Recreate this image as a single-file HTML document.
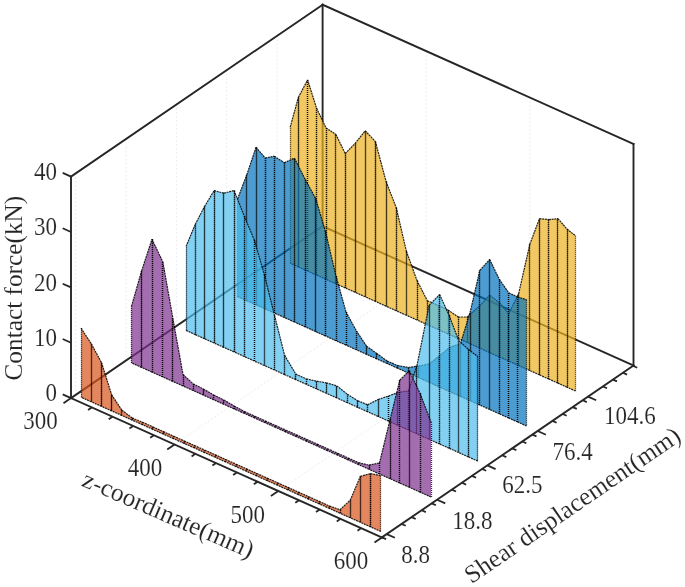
<!DOCTYPE html>
<html><head><meta charset="utf-8"><title>Contact force plot</title>
<style>html,body{margin:0;padding:0;background:#fff;width:685px;height:587px;overflow:hidden}svg{display:block}</style>
</head><body>
<svg width="685" height="587" viewBox="0 0 685 587"><g stroke="#ececec" stroke-width="1" stroke-dasharray="2 2" fill="none"><line x1="75.7" y1="394.8" x2="75.7" y2="173.3"/><line x1="126.1" y1="360.5" x2="126.1" y2="139.0"/><line x1="176.4" y1="326.1" x2="176.4" y2="104.6"/><line x1="226.7" y1="291.7" x2="226.7" y2="70.2"/><line x1="277.0" y1="257.3" x2="277.0" y2="35.8"/><line x1="426.2" y1="272.6" x2="426.2" y2="51.1"/><line x1="174.6" y1="444.5" x2="426.2" y2="272.6"/><line x1="529.9" y1="319.1" x2="529.9" y2="97.6"/><line x1="278.3" y1="491.0" x2="529.9" y2="319.1"/></g>
<g stroke="#262626" stroke-width="1.9" stroke-linecap="square"><line x1="71.0" y1="398.1" x2="71.0" y2="176.6"/><line x1="71.0" y1="176.6" x2="322.6" y2="4.7"/><line x1="322.6" y1="226.2" x2="322.6" y2="4.7"/><line x1="322.6" y1="4.7" x2="633.5" y2="144.0"/><line x1="633.5" y1="365.5" x2="633.5" y2="144.0"/><line x1="71.0" y1="398.1" x2="322.6" y2="226.2"/><line x1="322.6" y1="226.2" x2="633.5" y2="365.5"/></g>
<g><polygon points="290.2,127.1 298.4,97.3 307.6,79.9 316.6,108.3 326.0,127.9 335.9,134.4 345.2,153.5 355.0,143.6 365.2,130.8 375.4,141.6 386.1,181.6 396.2,207.6 406.4,251.3 417.0,280.5 427.3,300.7 438.5,305.5 448.0,310.0 458.4,317.0 467.3,317.0 479.5,306.0 489.7,295.2 499.3,302.7 508.8,313.6 518.7,293.5 529.8,244.3 539.5,218.7 548.9,219.6 557.9,218.7 567.0,229.0 575.5,235.8 575.5,391.0 290.2,263.2" fill="rgb(237, 177, 32)" fill-opacity="0.7" stroke="none"/><line x1="290.2" y1="127.1" x2="298.4" y2="97.3" stroke="#000" stroke-width="1.2" stroke-dasharray="2 0.7" stroke-opacity="0.85"/><line x1="298.4" y1="97.3" x2="307.6" y2="79.9" stroke="#000" stroke-width="1.2" stroke-dasharray="2 0.7" stroke-opacity="0.85"/><line x1="307.6" y1="79.9" x2="316.6" y2="108.3" stroke="#000" stroke-width="1.2" stroke-dasharray="2 0.7" stroke-opacity="0.85"/><line x1="316.6" y1="108.3" x2="326.0" y2="127.9" stroke="#000" stroke-width="1.2" stroke-dasharray="2 0.7" stroke-opacity="0.85"/><line x1="326.0" y1="127.9" x2="335.9" y2="134.4" stroke="#000" stroke-width="1.2" stroke-dasharray="2 0.7" stroke-opacity="0.85"/><line x1="335.9" y1="134.4" x2="345.2" y2="153.5" stroke="#000" stroke-width="1.2" stroke-dasharray="2 0.7" stroke-opacity="0.85"/><line x1="345.2" y1="153.5" x2="355.0" y2="143.6" stroke="#000" stroke-width="1.2" stroke-dasharray="2 0.7" stroke-opacity="0.85"/><line x1="355.0" y1="143.6" x2="365.2" y2="130.8" stroke="#000" stroke-width="1.2" stroke-dasharray="2 0.7" stroke-opacity="0.85"/><line x1="365.2" y1="130.8" x2="375.4" y2="141.6" stroke="#000" stroke-width="1.2" stroke-dasharray="2 0.7" stroke-opacity="0.85"/><line x1="375.4" y1="141.6" x2="386.1" y2="181.6" stroke="#000" stroke-width="1.2" stroke-dasharray="2 0.7" stroke-opacity="0.85"/><line x1="386.1" y1="181.6" x2="396.2" y2="207.6" stroke="#000" stroke-width="1.2" stroke-dasharray="2 0.7" stroke-opacity="0.85"/><line x1="396.2" y1="207.6" x2="406.4" y2="251.3" stroke="#000" stroke-width="1.2" stroke-dasharray="2 0.7" stroke-opacity="0.85"/><line x1="406.4" y1="251.3" x2="417.0" y2="280.5" stroke="#000" stroke-width="1.2" stroke-dasharray="2 0.7" stroke-opacity="0.85"/><line x1="417.0" y1="280.5" x2="427.3" y2="300.7" stroke="#000" stroke-width="1.2" stroke-dasharray="2 0.7" stroke-opacity="0.85"/><line x1="427.3" y1="300.7" x2="438.5" y2="305.5" stroke="#000" stroke-width="1.2" stroke-dasharray="2 0.7" stroke-opacity="0.85"/><line x1="438.5" y1="305.5" x2="448.0" y2="310.0" stroke="#000" stroke-width="1.2" stroke-dasharray="2 0.7" stroke-opacity="0.85"/><line x1="448.0" y1="310.0" x2="458.4" y2="317.0" stroke="#000" stroke-width="1.2" stroke-dasharray="2 0.7" stroke-opacity="0.85"/><line x1="458.4" y1="317.0" x2="467.3" y2="317.0" stroke="#000" stroke-width="1.2" stroke-dasharray="2 0.7" stroke-opacity="0.85"/><line x1="467.3" y1="317.0" x2="479.5" y2="306.0" stroke="#000" stroke-width="1.2" stroke-dasharray="2 0.7" stroke-opacity="0.85"/><line x1="479.5" y1="306.0" x2="489.7" y2="295.2" stroke="#000" stroke-width="1.2" stroke-dasharray="2 0.7" stroke-opacity="0.85"/><line x1="489.7" y1="295.2" x2="499.3" y2="302.7" stroke="#000" stroke-width="1.2" stroke-dasharray="2 0.7" stroke-opacity="0.85"/><line x1="499.3" y1="302.7" x2="508.8" y2="313.6" stroke="#000" stroke-width="1.2" stroke-dasharray="2 0.7" stroke-opacity="0.85"/><line x1="508.8" y1="313.6" x2="518.7" y2="293.5" stroke="#000" stroke-width="1.2" stroke-dasharray="2 0.7" stroke-opacity="0.85"/><line x1="518.7" y1="293.5" x2="529.8" y2="244.3" stroke="#000" stroke-width="1.2" stroke-dasharray="2 0.7" stroke-opacity="0.85"/><line x1="529.8" y1="244.3" x2="539.5" y2="218.7" stroke="#000" stroke-width="1.2" stroke-dasharray="2 0.7" stroke-opacity="0.85"/><line x1="539.5" y1="218.7" x2="548.9" y2="219.6" stroke="#000" stroke-width="1.2" stroke-dasharray="2 0.7" stroke-opacity="0.85"/><line x1="548.9" y1="219.6" x2="557.9" y2="218.7" stroke="#000" stroke-width="1.2" stroke-dasharray="2 0.7" stroke-opacity="0.85"/><line x1="557.9" y1="218.7" x2="567.0" y2="229.0" stroke="#000" stroke-width="1.2" stroke-dasharray="2 0.7" stroke-opacity="0.85"/><line x1="567.0" y1="229.0" x2="575.5" y2="235.8" stroke="#000" stroke-width="1.2" stroke-dasharray="2 0.7" stroke-opacity="0.85"/><line x1="298.4" y1="266.9" x2="290.2" y2="263.2" stroke="#000" stroke-width="1.2" stroke-dasharray="2 0.7" stroke-opacity="0.85"/><line x1="307.6" y1="271.0" x2="298.4" y2="266.9" stroke="#000" stroke-width="1.2" stroke-dasharray="2 0.7" stroke-opacity="0.85"/><line x1="316.6" y1="275.0" x2="307.6" y2="271.0" stroke="#000" stroke-width="1.2" stroke-dasharray="2 0.7" stroke-opacity="0.85"/><line x1="326.0" y1="279.3" x2="316.6" y2="275.0" stroke="#000" stroke-width="1.2" stroke-dasharray="2 0.7" stroke-opacity="0.85"/><line x1="335.9" y1="283.7" x2="326.0" y2="279.3" stroke="#000" stroke-width="1.2" stroke-dasharray="2 0.7" stroke-opacity="0.85"/><line x1="345.2" y1="287.9" x2="335.9" y2="283.7" stroke="#000" stroke-width="1.2" stroke-dasharray="2 0.7" stroke-opacity="0.85"/><line x1="355.0" y1="292.2" x2="345.2" y2="287.9" stroke="#000" stroke-width="1.2" stroke-dasharray="2 0.7" stroke-opacity="0.85"/><line x1="365.2" y1="296.8" x2="355.0" y2="292.2" stroke="#000" stroke-width="1.2" stroke-dasharray="2 0.7" stroke-opacity="0.85"/><line x1="375.4" y1="301.4" x2="365.2" y2="296.8" stroke="#000" stroke-width="1.2" stroke-dasharray="2 0.7" stroke-opacity="0.85"/><line x1="386.1" y1="306.2" x2="375.4" y2="301.4" stroke="#000" stroke-width="1.2" stroke-dasharray="2 0.7" stroke-opacity="0.85"/><line x1="396.2" y1="310.7" x2="386.1" y2="306.2" stroke="#000" stroke-width="1.2" stroke-dasharray="2 0.7" stroke-opacity="0.85"/><line x1="406.4" y1="315.3" x2="396.2" y2="310.7" stroke="#000" stroke-width="1.2" stroke-dasharray="2 0.7" stroke-opacity="0.85"/><line x1="417.0" y1="320.0" x2="406.4" y2="315.3" stroke="#000" stroke-width="1.2" stroke-dasharray="2 0.7" stroke-opacity="0.85"/><line x1="427.3" y1="324.6" x2="417.0" y2="320.0" stroke="#000" stroke-width="1.2" stroke-dasharray="2 0.7" stroke-opacity="0.85"/><line x1="438.5" y1="329.6" x2="427.3" y2="324.6" stroke="#000" stroke-width="1.2" stroke-dasharray="2 0.7" stroke-opacity="0.85"/><line x1="448.0" y1="333.9" x2="438.5" y2="329.6" stroke="#000" stroke-width="1.2" stroke-dasharray="2 0.7" stroke-opacity="0.85"/><line x1="458.4" y1="338.6" x2="448.0" y2="333.9" stroke="#000" stroke-width="1.2" stroke-dasharray="2 0.7" stroke-opacity="0.85"/><line x1="467.3" y1="342.5" x2="458.4" y2="338.6" stroke="#000" stroke-width="1.2" stroke-dasharray="2 0.7" stroke-opacity="0.85"/><line x1="479.5" y1="348.0" x2="467.3" y2="342.5" stroke="#000" stroke-width="1.2" stroke-dasharray="2 0.7" stroke-opacity="0.85"/><line x1="489.7" y1="352.6" x2="479.5" y2="348.0" stroke="#000" stroke-width="1.2" stroke-dasharray="2 0.7" stroke-opacity="0.85"/><line x1="499.3" y1="356.9" x2="489.7" y2="352.6" stroke="#000" stroke-width="1.2" stroke-dasharray="2 0.7" stroke-opacity="0.85"/><line x1="508.8" y1="361.1" x2="499.3" y2="356.9" stroke="#000" stroke-width="1.2" stroke-dasharray="2 0.7" stroke-opacity="0.85"/><line x1="518.7" y1="365.6" x2="508.8" y2="361.1" stroke="#000" stroke-width="1.2" stroke-dasharray="2 0.7" stroke-opacity="0.85"/><line x1="529.8" y1="370.5" x2="518.7" y2="365.6" stroke="#000" stroke-width="1.2" stroke-dasharray="2 0.7" stroke-opacity="0.85"/><line x1="539.5" y1="374.9" x2="529.8" y2="370.5" stroke="#000" stroke-width="1.2" stroke-dasharray="2 0.7" stroke-opacity="0.85"/><line x1="548.9" y1="379.1" x2="539.5" y2="374.9" stroke="#000" stroke-width="1.2" stroke-dasharray="2 0.7" stroke-opacity="0.85"/><line x1="557.9" y1="383.1" x2="548.9" y2="379.1" stroke="#000" stroke-width="1.2" stroke-dasharray="2 0.7" stroke-opacity="0.85"/><line x1="567.0" y1="387.2" x2="557.9" y2="383.1" stroke="#000" stroke-width="1.2" stroke-dasharray="2 0.7" stroke-opacity="0.85"/><line x1="575.5" y1="391.0" x2="567.0" y2="387.2" stroke="#000" stroke-width="1.2" stroke-dasharray="2 0.7" stroke-opacity="0.85"/><line x1="290.5" y1="263.2" x2="290.5" y2="127.1" stroke="#000" stroke-width="1.3" stroke-dasharray="1.05 0.95" stroke-opacity="0.8"/><line x1="298.5" y1="266.9" x2="298.5" y2="97.3" stroke="#000" stroke-width="1.3" stroke-dasharray="1.05 0.95" stroke-opacity="0.8"/><line x1="298.5" y1="97.3" x2="298.5" y2="266.9" stroke="#000" stroke-width="1.3" stroke-dasharray="1.05 0.95" stroke-opacity="0.8"/><line x1="307.5" y1="271.0" x2="307.5" y2="79.9" stroke="#000" stroke-width="1.3" stroke-dasharray="1.05 0.95" stroke-opacity="0.8"/><line x1="307.5" y1="79.9" x2="307.5" y2="271.0" stroke="#000" stroke-width="1.3" stroke-dasharray="1.05 0.95" stroke-opacity="0.8"/><line x1="316.5" y1="275.0" x2="316.5" y2="108.3" stroke="#000" stroke-width="1.3" stroke-dasharray="1.05 0.95" stroke-opacity="0.8"/><line x1="316.5" y1="108.3" x2="316.5" y2="275.0" stroke="#000" stroke-width="1.3" stroke-dasharray="1.05 0.95" stroke-opacity="0.8"/><line x1="326.5" y1="279.3" x2="326.5" y2="127.9" stroke="#000" stroke-width="1.3" stroke-dasharray="1.05 0.95" stroke-opacity="0.8"/><line x1="326.5" y1="127.9" x2="326.5" y2="279.3" stroke="#000" stroke-width="1.3" stroke-dasharray="1.05 0.95" stroke-opacity="0.8"/><line x1="335.5" y1="283.7" x2="335.5" y2="134.4" stroke="#000" stroke-width="1.3" stroke-dasharray="1.05 0.95" stroke-opacity="0.8"/><line x1="335.5" y1="134.4" x2="335.5" y2="283.7" stroke="#000" stroke-width="1.3" stroke-dasharray="1.05 0.95" stroke-opacity="0.8"/><line x1="345.5" y1="287.9" x2="345.5" y2="153.5" stroke="#000" stroke-width="1.3" stroke-dasharray="1.05 0.95" stroke-opacity="0.8"/><line x1="345.5" y1="153.5" x2="345.5" y2="287.9" stroke="#000" stroke-width="1.3" stroke-dasharray="1.05 0.95" stroke-opacity="0.8"/><line x1="355.5" y1="292.2" x2="355.5" y2="143.6" stroke="#000" stroke-width="1.3" stroke-dasharray="1.05 0.95" stroke-opacity="0.8"/><line x1="355.5" y1="143.6" x2="355.5" y2="292.2" stroke="#000" stroke-width="1.3" stroke-dasharray="1.05 0.95" stroke-opacity="0.8"/><line x1="365.5" y1="296.8" x2="365.5" y2="130.8" stroke="#000" stroke-width="1.3" stroke-dasharray="1.05 0.95" stroke-opacity="0.8"/><line x1="365.5" y1="130.8" x2="365.5" y2="296.8" stroke="#000" stroke-width="1.3" stroke-dasharray="1.05 0.95" stroke-opacity="0.8"/><line x1="375.5" y1="301.4" x2="375.5" y2="141.6" stroke="#000" stroke-width="1.3" stroke-dasharray="1.05 0.95" stroke-opacity="0.8"/><line x1="375.5" y1="141.6" x2="375.5" y2="301.4" stroke="#000" stroke-width="1.3" stroke-dasharray="1.05 0.95" stroke-opacity="0.8"/><line x1="386.5" y1="306.2" x2="386.5" y2="181.6" stroke="#000" stroke-width="1.3" stroke-dasharray="1.05 0.95" stroke-opacity="0.8"/><line x1="386.5" y1="181.6" x2="386.5" y2="306.2" stroke="#000" stroke-width="1.3" stroke-dasharray="1.05 0.95" stroke-opacity="0.8"/><line x1="396.5" y1="310.7" x2="396.5" y2="207.6" stroke="#000" stroke-width="1.3" stroke-dasharray="1.05 0.95" stroke-opacity="0.8"/><line x1="396.5" y1="207.6" x2="396.5" y2="310.7" stroke="#000" stroke-width="1.3" stroke-dasharray="1.05 0.95" stroke-opacity="0.8"/><line x1="406.5" y1="315.3" x2="406.5" y2="251.3" stroke="#000" stroke-width="1.3" stroke-dasharray="1.05 0.95" stroke-opacity="0.8"/><line x1="406.5" y1="251.3" x2="406.5" y2="315.3" stroke="#000" stroke-width="1.3" stroke-dasharray="1.05 0.95" stroke-opacity="0.8"/><line x1="417.5" y1="320.0" x2="417.5" y2="280.5" stroke="#000" stroke-width="1.3" stroke-dasharray="1.05 0.95" stroke-opacity="0.8"/><line x1="417.5" y1="280.5" x2="417.5" y2="320.0" stroke="#000" stroke-width="1.3" stroke-dasharray="1.05 0.95" stroke-opacity="0.8"/><line x1="427.5" y1="324.6" x2="427.5" y2="300.7" stroke="#000" stroke-width="1.3" stroke-dasharray="1.05 0.95" stroke-opacity="0.8"/><line x1="427.5" y1="300.7" x2="427.5" y2="324.6" stroke="#000" stroke-width="1.3" stroke-dasharray="1.05 0.95" stroke-opacity="0.8"/><line x1="438.5" y1="329.6" x2="438.5" y2="305.5" stroke="#000" stroke-width="1.3" stroke-dasharray="1.05 0.95" stroke-opacity="0.8"/><line x1="438.5" y1="305.5" x2="438.5" y2="329.6" stroke="#000" stroke-width="1.3" stroke-dasharray="1.05 0.95" stroke-opacity="0.8"/><line x1="448.5" y1="333.9" x2="448.5" y2="310.0" stroke="#000" stroke-width="1.3" stroke-dasharray="1.05 0.95" stroke-opacity="0.8"/><line x1="448.5" y1="310.0" x2="448.5" y2="333.9" stroke="#000" stroke-width="1.3" stroke-dasharray="1.05 0.95" stroke-opacity="0.8"/><line x1="458.5" y1="338.6" x2="458.5" y2="317.0" stroke="#000" stroke-width="1.3" stroke-dasharray="1.05 0.95" stroke-opacity="0.8"/><line x1="458.5" y1="317.0" x2="458.5" y2="338.6" stroke="#000" stroke-width="1.3" stroke-dasharray="1.05 0.95" stroke-opacity="0.8"/><line x1="467.5" y1="342.5" x2="467.5" y2="317.0" stroke="#000" stroke-width="1.3" stroke-dasharray="1.05 0.95" stroke-opacity="0.8"/><line x1="467.5" y1="317.0" x2="467.5" y2="342.5" stroke="#000" stroke-width="1.3" stroke-dasharray="1.05 0.95" stroke-opacity="0.8"/><line x1="479.5" y1="348.0" x2="479.5" y2="306.0" stroke="#000" stroke-width="1.3" stroke-dasharray="1.05 0.95" stroke-opacity="0.8"/><line x1="479.5" y1="306.0" x2="479.5" y2="348.0" stroke="#000" stroke-width="1.3" stroke-dasharray="1.05 0.95" stroke-opacity="0.8"/><line x1="489.5" y1="352.6" x2="489.5" y2="295.2" stroke="#000" stroke-width="1.3" stroke-dasharray="1.05 0.95" stroke-opacity="0.8"/><line x1="489.5" y1="295.2" x2="489.5" y2="352.6" stroke="#000" stroke-width="1.3" stroke-dasharray="1.05 0.95" stroke-opacity="0.8"/><line x1="499.5" y1="356.9" x2="499.5" y2="302.7" stroke="#000" stroke-width="1.3" stroke-dasharray="1.05 0.95" stroke-opacity="0.8"/><line x1="499.5" y1="302.7" x2="499.5" y2="356.9" stroke="#000" stroke-width="1.3" stroke-dasharray="1.05 0.95" stroke-opacity="0.8"/><line x1="508.5" y1="361.1" x2="508.5" y2="313.6" stroke="#000" stroke-width="1.3" stroke-dasharray="1.05 0.95" stroke-opacity="0.8"/><line x1="508.5" y1="313.6" x2="508.5" y2="361.1" stroke="#000" stroke-width="1.3" stroke-dasharray="1.05 0.95" stroke-opacity="0.8"/><line x1="518.5" y1="365.6" x2="518.5" y2="293.5" stroke="#000" stroke-width="1.3" stroke-dasharray="1.05 0.95" stroke-opacity="0.8"/><line x1="518.5" y1="293.5" x2="518.5" y2="365.6" stroke="#000" stroke-width="1.3" stroke-dasharray="1.05 0.95" stroke-opacity="0.8"/><line x1="529.5" y1="370.5" x2="529.5" y2="244.3" stroke="#000" stroke-width="1.3" stroke-dasharray="1.05 0.95" stroke-opacity="0.8"/><line x1="529.5" y1="244.3" x2="529.5" y2="370.5" stroke="#000" stroke-width="1.3" stroke-dasharray="1.05 0.95" stroke-opacity="0.8"/><line x1="539.5" y1="374.9" x2="539.5" y2="218.7" stroke="#000" stroke-width="1.3" stroke-dasharray="1.05 0.95" stroke-opacity="0.8"/><line x1="539.5" y1="218.7" x2="539.5" y2="374.9" stroke="#000" stroke-width="1.3" stroke-dasharray="1.05 0.95" stroke-opacity="0.8"/><line x1="548.5" y1="379.1" x2="548.5" y2="219.6" stroke="#000" stroke-width="1.3" stroke-dasharray="1.05 0.95" stroke-opacity="0.8"/><line x1="548.5" y1="219.6" x2="548.5" y2="379.1" stroke="#000" stroke-width="1.3" stroke-dasharray="1.05 0.95" stroke-opacity="0.8"/><line x1="557.5" y1="383.1" x2="557.5" y2="218.7" stroke="#000" stroke-width="1.3" stroke-dasharray="1.05 0.95" stroke-opacity="0.8"/><line x1="557.5" y1="218.7" x2="557.5" y2="383.1" stroke="#000" stroke-width="1.3" stroke-dasharray="1.05 0.95" stroke-opacity="0.8"/><line x1="567.5" y1="387.2" x2="567.5" y2="229.0" stroke="#000" stroke-width="1.3" stroke-dasharray="1.05 0.95" stroke-opacity="0.8"/><line x1="567.5" y1="229.0" x2="567.5" y2="387.2" stroke="#000" stroke-width="1.3" stroke-dasharray="1.05 0.95" stroke-opacity="0.8"/><line x1="575.5" y1="235.8" x2="575.5" y2="391.0" stroke="#000" stroke-width="1.3" stroke-dasharray="1.05 0.95" stroke-opacity="0.8"/></g>
<g><polygon points="237.6,198.8 246.8,174.8 256.0,147.3 265.2,158.0 274.3,156.2 284.3,162.7 294.4,158.2 305.4,179.8 315.7,198.6 325.3,231.0 336.0,276.0 346.0,312.0 356.4,330.9 366.6,346.2 376.8,353.5 387.1,361.0 397.6,365.5 408.5,367.5 418.7,366.0 429.0,364.0 438.5,356.6 449.5,347.5 460.5,343.5 470.0,312.7 479.8,270.4 489.7,259.5 499.3,279.3 508.8,292.9 517.7,297.0 526.5,299.7 526.5,426.0 237.6,296.6" fill="rgb(0, 114, 189)" fill-opacity="0.7" stroke="none"/><line x1="237.6" y1="198.8" x2="246.8" y2="174.8" stroke="#000" stroke-width="1.2" stroke-dasharray="2 0.7" stroke-opacity="0.85"/><line x1="246.8" y1="174.8" x2="256.0" y2="147.3" stroke="#000" stroke-width="1.2" stroke-dasharray="2 0.7" stroke-opacity="0.85"/><line x1="256.0" y1="147.3" x2="265.2" y2="158.0" stroke="#000" stroke-width="1.2" stroke-dasharray="2 0.7" stroke-opacity="0.85"/><line x1="265.2" y1="158.0" x2="274.3" y2="156.2" stroke="#000" stroke-width="1.2" stroke-dasharray="2 0.7" stroke-opacity="0.85"/><line x1="274.3" y1="156.2" x2="284.3" y2="162.7" stroke="#000" stroke-width="1.2" stroke-dasharray="2 0.7" stroke-opacity="0.85"/><line x1="284.3" y1="162.7" x2="294.4" y2="158.2" stroke="#000" stroke-width="1.2" stroke-dasharray="2 0.7" stroke-opacity="0.85"/><line x1="294.4" y1="158.2" x2="305.4" y2="179.8" stroke="#000" stroke-width="1.2" stroke-dasharray="2 0.7" stroke-opacity="0.85"/><line x1="305.4" y1="179.8" x2="315.7" y2="198.6" stroke="#000" stroke-width="1.2" stroke-dasharray="2 0.7" stroke-opacity="0.85"/><line x1="315.7" y1="198.6" x2="325.3" y2="231.0" stroke="#000" stroke-width="1.2" stroke-dasharray="2 0.7" stroke-opacity="0.85"/><line x1="325.3" y1="231.0" x2="336.0" y2="276.0" stroke="#000" stroke-width="1.2" stroke-dasharray="2 0.7" stroke-opacity="0.85"/><line x1="336.0" y1="276.0" x2="346.0" y2="312.0" stroke="#000" stroke-width="1.2" stroke-dasharray="2 0.7" stroke-opacity="0.85"/><line x1="346.0" y1="312.0" x2="356.4" y2="330.9" stroke="#000" stroke-width="1.2" stroke-dasharray="2 0.7" stroke-opacity="0.85"/><line x1="356.4" y1="330.9" x2="366.6" y2="346.2" stroke="#000" stroke-width="1.2" stroke-dasharray="2 0.7" stroke-opacity="0.85"/><line x1="366.6" y1="346.2" x2="376.8" y2="353.5" stroke="#000" stroke-width="1.2" stroke-dasharray="2 0.7" stroke-opacity="0.85"/><line x1="376.8" y1="353.5" x2="387.1" y2="361.0" stroke="#000" stroke-width="1.2" stroke-dasharray="2 0.7" stroke-opacity="0.85"/><line x1="387.1" y1="361.0" x2="397.6" y2="365.5" stroke="#000" stroke-width="1.2" stroke-dasharray="2 0.7" stroke-opacity="0.85"/><line x1="397.6" y1="365.5" x2="408.5" y2="367.5" stroke="#000" stroke-width="1.2" stroke-dasharray="2 0.7" stroke-opacity="0.85"/><line x1="408.5" y1="367.5" x2="418.7" y2="366.0" stroke="#000" stroke-width="1.2" stroke-dasharray="2 0.7" stroke-opacity="0.85"/><line x1="418.7" y1="366.0" x2="429.0" y2="364.0" stroke="#000" stroke-width="1.2" stroke-dasharray="2 0.7" stroke-opacity="0.85"/><line x1="429.0" y1="364.0" x2="438.5" y2="356.6" stroke="#000" stroke-width="1.2" stroke-dasharray="2 0.7" stroke-opacity="0.85"/><line x1="438.5" y1="356.6" x2="449.5" y2="347.5" stroke="#000" stroke-width="1.2" stroke-dasharray="2 0.7" stroke-opacity="0.85"/><line x1="449.5" y1="347.5" x2="460.5" y2="343.5" stroke="#000" stroke-width="1.2" stroke-dasharray="2 0.7" stroke-opacity="0.85"/><line x1="460.5" y1="343.5" x2="470.0" y2="312.7" stroke="#000" stroke-width="1.2" stroke-dasharray="2 0.7" stroke-opacity="0.85"/><line x1="470.0" y1="312.7" x2="479.8" y2="270.4" stroke="#000" stroke-width="1.2" stroke-dasharray="2 0.7" stroke-opacity="0.85"/><line x1="479.8" y1="270.4" x2="489.7" y2="259.5" stroke="#000" stroke-width="1.2" stroke-dasharray="2 0.7" stroke-opacity="0.85"/><line x1="489.7" y1="259.5" x2="499.3" y2="279.3" stroke="#000" stroke-width="1.2" stroke-dasharray="2 0.7" stroke-opacity="0.85"/><line x1="499.3" y1="279.3" x2="508.8" y2="292.9" stroke="#000" stroke-width="1.2" stroke-dasharray="2 0.7" stroke-opacity="0.85"/><line x1="508.8" y1="292.9" x2="517.7" y2="297.0" stroke="#000" stroke-width="1.2" stroke-dasharray="2 0.7" stroke-opacity="0.85"/><line x1="517.7" y1="297.0" x2="526.5" y2="299.7" stroke="#000" stroke-width="1.2" stroke-dasharray="2 0.7" stroke-opacity="0.85"/><line x1="246.8" y1="300.7" x2="237.6" y2="296.6" stroke="#000" stroke-width="1.2" stroke-dasharray="2 0.7" stroke-opacity="0.85"/><line x1="256.0" y1="304.8" x2="246.8" y2="300.7" stroke="#000" stroke-width="1.2" stroke-dasharray="2 0.7" stroke-opacity="0.85"/><line x1="265.2" y1="308.9" x2="256.0" y2="304.8" stroke="#000" stroke-width="1.2" stroke-dasharray="2 0.7" stroke-opacity="0.85"/><line x1="274.3" y1="313.0" x2="265.2" y2="308.9" stroke="#000" stroke-width="1.2" stroke-dasharray="2 0.7" stroke-opacity="0.85"/><line x1="284.3" y1="317.5" x2="274.3" y2="313.0" stroke="#000" stroke-width="1.2" stroke-dasharray="2 0.7" stroke-opacity="0.85"/><line x1="294.4" y1="322.0" x2="284.3" y2="317.5" stroke="#000" stroke-width="1.2" stroke-dasharray="2 0.7" stroke-opacity="0.85"/><line x1="305.4" y1="326.9" x2="294.4" y2="322.0" stroke="#000" stroke-width="1.2" stroke-dasharray="2 0.7" stroke-opacity="0.85"/><line x1="315.7" y1="331.6" x2="305.4" y2="326.9" stroke="#000" stroke-width="1.2" stroke-dasharray="2 0.7" stroke-opacity="0.85"/><line x1="325.3" y1="335.9" x2="315.7" y2="331.6" stroke="#000" stroke-width="1.2" stroke-dasharray="2 0.7" stroke-opacity="0.85"/><line x1="336.0" y1="340.7" x2="325.3" y2="335.9" stroke="#000" stroke-width="1.2" stroke-dasharray="2 0.7" stroke-opacity="0.85"/><line x1="346.0" y1="345.1" x2="336.0" y2="340.7" stroke="#000" stroke-width="1.2" stroke-dasharray="2 0.7" stroke-opacity="0.85"/><line x1="356.4" y1="349.8" x2="346.0" y2="345.1" stroke="#000" stroke-width="1.2" stroke-dasharray="2 0.7" stroke-opacity="0.85"/><line x1="366.6" y1="354.4" x2="356.4" y2="349.8" stroke="#000" stroke-width="1.2" stroke-dasharray="2 0.7" stroke-opacity="0.85"/><line x1="376.8" y1="358.9" x2="366.6" y2="354.4" stroke="#000" stroke-width="1.2" stroke-dasharray="2 0.7" stroke-opacity="0.85"/><line x1="387.1" y1="363.5" x2="376.8" y2="358.9" stroke="#000" stroke-width="1.2" stroke-dasharray="2 0.7" stroke-opacity="0.85"/><line x1="397.6" y1="368.2" x2="387.1" y2="363.5" stroke="#000" stroke-width="1.2" stroke-dasharray="2 0.7" stroke-opacity="0.85"/><line x1="408.5" y1="373.1" x2="397.6" y2="368.2" stroke="#000" stroke-width="1.2" stroke-dasharray="2 0.7" stroke-opacity="0.85"/><line x1="418.7" y1="377.7" x2="408.5" y2="373.1" stroke="#000" stroke-width="1.2" stroke-dasharray="2 0.7" stroke-opacity="0.85"/><line x1="429.0" y1="382.3" x2="418.7" y2="377.7" stroke="#000" stroke-width="1.2" stroke-dasharray="2 0.7" stroke-opacity="0.85"/><line x1="438.5" y1="386.6" x2="429.0" y2="382.3" stroke="#000" stroke-width="1.2" stroke-dasharray="2 0.7" stroke-opacity="0.85"/><line x1="449.5" y1="391.5" x2="438.5" y2="386.6" stroke="#000" stroke-width="1.2" stroke-dasharray="2 0.7" stroke-opacity="0.85"/><line x1="460.5" y1="396.4" x2="449.5" y2="391.5" stroke="#000" stroke-width="1.2" stroke-dasharray="2 0.7" stroke-opacity="0.85"/><line x1="470.0" y1="400.7" x2="460.5" y2="396.4" stroke="#000" stroke-width="1.2" stroke-dasharray="2 0.7" stroke-opacity="0.85"/><line x1="479.8" y1="405.1" x2="470.0" y2="400.7" stroke="#000" stroke-width="1.2" stroke-dasharray="2 0.7" stroke-opacity="0.85"/><line x1="489.7" y1="409.5" x2="479.8" y2="405.1" stroke="#000" stroke-width="1.2" stroke-dasharray="2 0.7" stroke-opacity="0.85"/><line x1="499.3" y1="413.8" x2="489.7" y2="409.5" stroke="#000" stroke-width="1.2" stroke-dasharray="2 0.7" stroke-opacity="0.85"/><line x1="508.8" y1="418.1" x2="499.3" y2="413.8" stroke="#000" stroke-width="1.2" stroke-dasharray="2 0.7" stroke-opacity="0.85"/><line x1="517.7" y1="422.0" x2="508.8" y2="418.1" stroke="#000" stroke-width="1.2" stroke-dasharray="2 0.7" stroke-opacity="0.85"/><line x1="526.5" y1="426.0" x2="517.7" y2="422.0" stroke="#000" stroke-width="1.2" stroke-dasharray="2 0.7" stroke-opacity="0.85"/><line x1="237.5" y1="296.6" x2="237.5" y2="198.8" stroke="#000" stroke-width="1.3" stroke-dasharray="1.05 0.95" stroke-opacity="0.8"/><line x1="246.5" y1="300.7" x2="246.5" y2="174.8" stroke="#000" stroke-width="1.3" stroke-dasharray="1.05 0.95" stroke-opacity="0.8"/><line x1="246.5" y1="174.8" x2="246.5" y2="300.7" stroke="#000" stroke-width="1.3" stroke-dasharray="1.05 0.95" stroke-opacity="0.8"/><line x1="256.5" y1="304.8" x2="256.5" y2="147.3" stroke="#000" stroke-width="1.3" stroke-dasharray="1.05 0.95" stroke-opacity="0.8"/><line x1="256.5" y1="147.3" x2="256.5" y2="304.8" stroke="#000" stroke-width="1.3" stroke-dasharray="1.05 0.95" stroke-opacity="0.8"/><line x1="265.5" y1="308.9" x2="265.5" y2="158.0" stroke="#000" stroke-width="1.3" stroke-dasharray="1.05 0.95" stroke-opacity="0.8"/><line x1="265.5" y1="158.0" x2="265.5" y2="308.9" stroke="#000" stroke-width="1.3" stroke-dasharray="1.05 0.95" stroke-opacity="0.8"/><line x1="274.5" y1="313.0" x2="274.5" y2="156.2" stroke="#000" stroke-width="1.3" stroke-dasharray="1.05 0.95" stroke-opacity="0.8"/><line x1="274.5" y1="156.2" x2="274.5" y2="313.0" stroke="#000" stroke-width="1.3" stroke-dasharray="1.05 0.95" stroke-opacity="0.8"/><line x1="284.5" y1="317.5" x2="284.5" y2="162.7" stroke="#000" stroke-width="1.3" stroke-dasharray="1.05 0.95" stroke-opacity="0.8"/><line x1="284.5" y1="162.7" x2="284.5" y2="317.5" stroke="#000" stroke-width="1.3" stroke-dasharray="1.05 0.95" stroke-opacity="0.8"/><line x1="294.5" y1="322.0" x2="294.5" y2="158.2" stroke="#000" stroke-width="1.3" stroke-dasharray="1.05 0.95" stroke-opacity="0.8"/><line x1="294.5" y1="158.2" x2="294.5" y2="322.0" stroke="#000" stroke-width="1.3" stroke-dasharray="1.05 0.95" stroke-opacity="0.8"/><line x1="305.5" y1="326.9" x2="305.5" y2="179.8" stroke="#000" stroke-width="1.3" stroke-dasharray="1.05 0.95" stroke-opacity="0.8"/><line x1="305.5" y1="179.8" x2="305.5" y2="326.9" stroke="#000" stroke-width="1.3" stroke-dasharray="1.05 0.95" stroke-opacity="0.8"/><line x1="315.5" y1="331.6" x2="315.5" y2="198.6" stroke="#000" stroke-width="1.3" stroke-dasharray="1.05 0.95" stroke-opacity="0.8"/><line x1="315.5" y1="198.6" x2="315.5" y2="331.6" stroke="#000" stroke-width="1.3" stroke-dasharray="1.05 0.95" stroke-opacity="0.8"/><line x1="325.5" y1="335.9" x2="325.5" y2="231.0" stroke="#000" stroke-width="1.3" stroke-dasharray="1.05 0.95" stroke-opacity="0.8"/><line x1="325.5" y1="231.0" x2="325.5" y2="335.9" stroke="#000" stroke-width="1.3" stroke-dasharray="1.05 0.95" stroke-opacity="0.8"/><line x1="336.5" y1="340.7" x2="336.5" y2="276.0" stroke="#000" stroke-width="1.3" stroke-dasharray="1.05 0.95" stroke-opacity="0.8"/><line x1="336.5" y1="276.0" x2="336.5" y2="340.7" stroke="#000" stroke-width="1.3" stroke-dasharray="1.05 0.95" stroke-opacity="0.8"/><line x1="346.5" y1="345.1" x2="346.5" y2="312.0" stroke="#000" stroke-width="1.3" stroke-dasharray="1.05 0.95" stroke-opacity="0.8"/><line x1="346.5" y1="312.0" x2="346.5" y2="345.1" stroke="#000" stroke-width="1.3" stroke-dasharray="1.05 0.95" stroke-opacity="0.8"/><line x1="356.5" y1="349.8" x2="356.5" y2="330.9" stroke="#000" stroke-width="1.3" stroke-dasharray="1.05 0.95" stroke-opacity="0.8"/><line x1="356.5" y1="330.9" x2="356.5" y2="349.8" stroke="#000" stroke-width="1.3" stroke-dasharray="1.05 0.95" stroke-opacity="0.8"/><line x1="366.5" y1="354.4" x2="366.5" y2="346.2" stroke="#000" stroke-width="1.3" stroke-dasharray="1.05 0.95" stroke-opacity="0.8"/><line x1="366.5" y1="346.2" x2="366.5" y2="354.4" stroke="#000" stroke-width="1.3" stroke-dasharray="1.05 0.95" stroke-opacity="0.8"/><line x1="376.5" y1="358.9" x2="376.5" y2="353.5" stroke="#000" stroke-width="1.3" stroke-dasharray="1.05 0.95" stroke-opacity="0.8"/><line x1="376.5" y1="353.5" x2="376.5" y2="358.9" stroke="#000" stroke-width="1.3" stroke-dasharray="1.05 0.95" stroke-opacity="0.8"/><line x1="387.5" y1="363.5" x2="387.5" y2="361.0" stroke="#000" stroke-width="1.3" stroke-dasharray="1.05 0.95" stroke-opacity="0.8"/><line x1="387.5" y1="361.0" x2="387.5" y2="363.5" stroke="#000" stroke-width="1.3" stroke-dasharray="1.05 0.95" stroke-opacity="0.8"/><line x1="397.5" y1="368.2" x2="397.5" y2="365.5" stroke="#000" stroke-width="1.3" stroke-dasharray="1.05 0.95" stroke-opacity="0.8"/><line x1="397.5" y1="365.5" x2="397.5" y2="368.2" stroke="#000" stroke-width="1.3" stroke-dasharray="1.05 0.95" stroke-opacity="0.8"/><line x1="408.5" y1="373.1" x2="408.5" y2="367.5" stroke="#000" stroke-width="1.3" stroke-dasharray="1.05 0.95" stroke-opacity="0.8"/><line x1="408.5" y1="367.5" x2="408.5" y2="373.1" stroke="#000" stroke-width="1.3" stroke-dasharray="1.05 0.95" stroke-opacity="0.8"/><line x1="418.5" y1="377.7" x2="418.5" y2="366.0" stroke="#000" stroke-width="1.3" stroke-dasharray="1.05 0.95" stroke-opacity="0.8"/><line x1="418.5" y1="366.0" x2="418.5" y2="377.7" stroke="#000" stroke-width="1.3" stroke-dasharray="1.05 0.95" stroke-opacity="0.8"/><line x1="429.5" y1="382.3" x2="429.5" y2="364.0" stroke="#000" stroke-width="1.3" stroke-dasharray="1.05 0.95" stroke-opacity="0.8"/><line x1="429.5" y1="364.0" x2="429.5" y2="382.3" stroke="#000" stroke-width="1.3" stroke-dasharray="1.05 0.95" stroke-opacity="0.8"/><line x1="438.5" y1="386.6" x2="438.5" y2="356.6" stroke="#000" stroke-width="1.3" stroke-dasharray="1.05 0.95" stroke-opacity="0.8"/><line x1="438.5" y1="356.6" x2="438.5" y2="386.6" stroke="#000" stroke-width="1.3" stroke-dasharray="1.05 0.95" stroke-opacity="0.8"/><line x1="449.5" y1="391.5" x2="449.5" y2="347.5" stroke="#000" stroke-width="1.3" stroke-dasharray="1.05 0.95" stroke-opacity="0.8"/><line x1="449.5" y1="347.5" x2="449.5" y2="391.5" stroke="#000" stroke-width="1.3" stroke-dasharray="1.05 0.95" stroke-opacity="0.8"/><line x1="460.5" y1="396.4" x2="460.5" y2="343.5" stroke="#000" stroke-width="1.3" stroke-dasharray="1.05 0.95" stroke-opacity="0.8"/><line x1="460.5" y1="343.5" x2="460.5" y2="396.4" stroke="#000" stroke-width="1.3" stroke-dasharray="1.05 0.95" stroke-opacity="0.8"/><line x1="470.5" y1="400.7" x2="470.5" y2="312.7" stroke="#000" stroke-width="1.3" stroke-dasharray="1.05 0.95" stroke-opacity="0.8"/><line x1="470.5" y1="312.7" x2="470.5" y2="400.7" stroke="#000" stroke-width="1.3" stroke-dasharray="1.05 0.95" stroke-opacity="0.8"/><line x1="479.5" y1="405.1" x2="479.5" y2="270.4" stroke="#000" stroke-width="1.3" stroke-dasharray="1.05 0.95" stroke-opacity="0.8"/><line x1="479.5" y1="270.4" x2="479.5" y2="405.1" stroke="#000" stroke-width="1.3" stroke-dasharray="1.05 0.95" stroke-opacity="0.8"/><line x1="489.5" y1="409.5" x2="489.5" y2="259.5" stroke="#000" stroke-width="1.3" stroke-dasharray="1.05 0.95" stroke-opacity="0.8"/><line x1="489.5" y1="259.5" x2="489.5" y2="409.5" stroke="#000" stroke-width="1.3" stroke-dasharray="1.05 0.95" stroke-opacity="0.8"/><line x1="499.5" y1="413.8" x2="499.5" y2="279.3" stroke="#000" stroke-width="1.3" stroke-dasharray="1.05 0.95" stroke-opacity="0.8"/><line x1="499.5" y1="279.3" x2="499.5" y2="413.8" stroke="#000" stroke-width="1.3" stroke-dasharray="1.05 0.95" stroke-opacity="0.8"/><line x1="508.5" y1="418.1" x2="508.5" y2="292.9" stroke="#000" stroke-width="1.3" stroke-dasharray="1.05 0.95" stroke-opacity="0.8"/><line x1="508.5" y1="292.9" x2="508.5" y2="418.1" stroke="#000" stroke-width="1.3" stroke-dasharray="1.05 0.95" stroke-opacity="0.8"/><line x1="517.5" y1="422.0" x2="517.5" y2="297.0" stroke="#000" stroke-width="1.3" stroke-dasharray="1.05 0.95" stroke-opacity="0.8"/><line x1="517.5" y1="297.0" x2="517.5" y2="422.0" stroke="#000" stroke-width="1.3" stroke-dasharray="1.05 0.95" stroke-opacity="0.8"/><line x1="526.5" y1="299.7" x2="526.5" y2="426.0" stroke="#000" stroke-width="1.3" stroke-dasharray="1.05 0.95" stroke-opacity="0.8"/></g>
<g><polygon points="186.1,246.4 195.3,224.3 204.5,206.6 214.1,190.6 223.9,193.2 234.1,190.6 244.2,216.0 254.3,240.0 264.3,274.5 274.5,315.4 284.6,355.3 295.8,374.1 306.3,378.9 316.8,381.2 326.4,382.9 336.9,385.9 347.4,394.3 357.9,400.9 367.6,404.8 378.1,399.5 388.6,396.0 397.5,392.6 408.5,390.8 416.9,365.9 429.1,305.3 439.6,294.6 449.1,315.3 458.6,340.4 468.4,349.4 477.8,356.6 477.8,461.1 186.1,330.4" fill="rgb(77, 190, 238)" fill-opacity="0.7" stroke="none"/><line x1="186.1" y1="246.4" x2="195.3" y2="224.3" stroke="#000" stroke-width="1.2" stroke-dasharray="2 0.7" stroke-opacity="0.85"/><line x1="195.3" y1="224.3" x2="204.5" y2="206.6" stroke="#000" stroke-width="1.2" stroke-dasharray="2 0.7" stroke-opacity="0.85"/><line x1="204.5" y1="206.6" x2="214.1" y2="190.6" stroke="#000" stroke-width="1.2" stroke-dasharray="2 0.7" stroke-opacity="0.85"/><line x1="214.1" y1="190.6" x2="223.9" y2="193.2" stroke="#000" stroke-width="1.2" stroke-dasharray="2 0.7" stroke-opacity="0.85"/><line x1="223.9" y1="193.2" x2="234.1" y2="190.6" stroke="#000" stroke-width="1.2" stroke-dasharray="2 0.7" stroke-opacity="0.85"/><line x1="234.1" y1="190.6" x2="244.2" y2="216.0" stroke="#000" stroke-width="1.2" stroke-dasharray="2 0.7" stroke-opacity="0.85"/><line x1="244.2" y1="216.0" x2="254.3" y2="240.0" stroke="#000" stroke-width="1.2" stroke-dasharray="2 0.7" stroke-opacity="0.85"/><line x1="254.3" y1="240.0" x2="264.3" y2="274.5" stroke="#000" stroke-width="1.2" stroke-dasharray="2 0.7" stroke-opacity="0.85"/><line x1="264.3" y1="274.5" x2="274.5" y2="315.4" stroke="#000" stroke-width="1.2" stroke-dasharray="2 0.7" stroke-opacity="0.85"/><line x1="274.5" y1="315.4" x2="284.6" y2="355.3" stroke="#000" stroke-width="1.2" stroke-dasharray="2 0.7" stroke-opacity="0.85"/><line x1="284.6" y1="355.3" x2="295.8" y2="374.1" stroke="#000" stroke-width="1.2" stroke-dasharray="2 0.7" stroke-opacity="0.85"/><line x1="295.8" y1="374.1" x2="306.3" y2="378.9" stroke="#000" stroke-width="1.2" stroke-dasharray="2 0.7" stroke-opacity="0.85"/><line x1="306.3" y1="378.9" x2="316.8" y2="381.2" stroke="#000" stroke-width="1.2" stroke-dasharray="2 0.7" stroke-opacity="0.85"/><line x1="316.8" y1="381.2" x2="326.4" y2="382.9" stroke="#000" stroke-width="1.2" stroke-dasharray="2 0.7" stroke-opacity="0.85"/><line x1="326.4" y1="382.9" x2="336.9" y2="385.9" stroke="#000" stroke-width="1.2" stroke-dasharray="2 0.7" stroke-opacity="0.85"/><line x1="336.9" y1="385.9" x2="347.4" y2="394.3" stroke="#000" stroke-width="1.2" stroke-dasharray="2 0.7" stroke-opacity="0.85"/><line x1="347.4" y1="394.3" x2="357.9" y2="400.9" stroke="#000" stroke-width="1.2" stroke-dasharray="2 0.7" stroke-opacity="0.85"/><line x1="357.9" y1="400.9" x2="367.6" y2="404.8" stroke="#000" stroke-width="1.2" stroke-dasharray="2 0.7" stroke-opacity="0.85"/><line x1="367.6" y1="404.8" x2="378.1" y2="399.5" stroke="#000" stroke-width="1.2" stroke-dasharray="2 0.7" stroke-opacity="0.85"/><line x1="378.1" y1="399.5" x2="388.6" y2="396.0" stroke="#000" stroke-width="1.2" stroke-dasharray="2 0.7" stroke-opacity="0.85"/><line x1="388.6" y1="396.0" x2="397.5" y2="392.6" stroke="#000" stroke-width="1.2" stroke-dasharray="2 0.7" stroke-opacity="0.85"/><line x1="397.5" y1="392.6" x2="408.5" y2="390.8" stroke="#000" stroke-width="1.2" stroke-dasharray="2 0.7" stroke-opacity="0.85"/><line x1="408.5" y1="390.8" x2="416.9" y2="365.9" stroke="#000" stroke-width="1.2" stroke-dasharray="2 0.7" stroke-opacity="0.85"/><line x1="416.9" y1="365.9" x2="429.1" y2="305.3" stroke="#000" stroke-width="1.2" stroke-dasharray="2 0.7" stroke-opacity="0.85"/><line x1="429.1" y1="305.3" x2="439.6" y2="294.6" stroke="#000" stroke-width="1.2" stroke-dasharray="2 0.7" stroke-opacity="0.85"/><line x1="439.6" y1="294.6" x2="449.1" y2="315.3" stroke="#000" stroke-width="1.2" stroke-dasharray="2 0.7" stroke-opacity="0.85"/><line x1="449.1" y1="315.3" x2="458.6" y2="340.4" stroke="#000" stroke-width="1.2" stroke-dasharray="2 0.7" stroke-opacity="0.85"/><line x1="458.6" y1="340.4" x2="468.4" y2="349.4" stroke="#000" stroke-width="1.2" stroke-dasharray="2 0.7" stroke-opacity="0.85"/><line x1="468.4" y1="349.4" x2="477.8" y2="356.6" stroke="#000" stroke-width="1.2" stroke-dasharray="2 0.7" stroke-opacity="0.85"/><line x1="195.3" y1="334.6" x2="186.1" y2="330.4" stroke="#000" stroke-width="1.2" stroke-dasharray="2 0.7" stroke-opacity="0.85"/><line x1="204.5" y1="338.7" x2="195.3" y2="334.6" stroke="#000" stroke-width="1.2" stroke-dasharray="2 0.7" stroke-opacity="0.85"/><line x1="214.1" y1="343.0" x2="204.5" y2="338.7" stroke="#000" stroke-width="1.2" stroke-dasharray="2 0.7" stroke-opacity="0.85"/><line x1="223.9" y1="347.4" x2="214.1" y2="343.0" stroke="#000" stroke-width="1.2" stroke-dasharray="2 0.7" stroke-opacity="0.85"/><line x1="234.1" y1="351.9" x2="223.9" y2="347.4" stroke="#000" stroke-width="1.2" stroke-dasharray="2 0.7" stroke-opacity="0.85"/><line x1="244.2" y1="356.5" x2="234.1" y2="351.9" stroke="#000" stroke-width="1.2" stroke-dasharray="2 0.7" stroke-opacity="0.85"/><line x1="254.3" y1="361.0" x2="244.2" y2="356.5" stroke="#000" stroke-width="1.2" stroke-dasharray="2 0.7" stroke-opacity="0.85"/><line x1="264.3" y1="365.5" x2="254.3" y2="361.0" stroke="#000" stroke-width="1.2" stroke-dasharray="2 0.7" stroke-opacity="0.85"/><line x1="274.5" y1="370.0" x2="264.3" y2="365.5" stroke="#000" stroke-width="1.2" stroke-dasharray="2 0.7" stroke-opacity="0.85"/><line x1="284.6" y1="374.6" x2="274.5" y2="370.0" stroke="#000" stroke-width="1.2" stroke-dasharray="2 0.7" stroke-opacity="0.85"/><line x1="295.8" y1="379.6" x2="284.6" y2="374.6" stroke="#000" stroke-width="1.2" stroke-dasharray="2 0.7" stroke-opacity="0.85"/><line x1="306.3" y1="384.3" x2="295.8" y2="379.6" stroke="#000" stroke-width="1.2" stroke-dasharray="2 0.7" stroke-opacity="0.85"/><line x1="316.8" y1="389.0" x2="306.3" y2="384.3" stroke="#000" stroke-width="1.2" stroke-dasharray="2 0.7" stroke-opacity="0.85"/><line x1="326.4" y1="393.3" x2="316.8" y2="389.0" stroke="#000" stroke-width="1.2" stroke-dasharray="2 0.7" stroke-opacity="0.85"/><line x1="336.9" y1="398.0" x2="326.4" y2="393.3" stroke="#000" stroke-width="1.2" stroke-dasharray="2 0.7" stroke-opacity="0.85"/><line x1="347.4" y1="402.7" x2="336.9" y2="398.0" stroke="#000" stroke-width="1.2" stroke-dasharray="2 0.7" stroke-opacity="0.85"/><line x1="357.9" y1="407.4" x2="347.4" y2="402.7" stroke="#000" stroke-width="1.2" stroke-dasharray="2 0.7" stroke-opacity="0.85"/><line x1="367.6" y1="411.7" x2="357.9" y2="407.4" stroke="#000" stroke-width="1.2" stroke-dasharray="2 0.7" stroke-opacity="0.85"/><line x1="378.1" y1="416.4" x2="367.6" y2="411.7" stroke="#000" stroke-width="1.2" stroke-dasharray="2 0.7" stroke-opacity="0.85"/><line x1="388.6" y1="421.1" x2="378.1" y2="416.4" stroke="#000" stroke-width="1.2" stroke-dasharray="2 0.7" stroke-opacity="0.85"/><line x1="397.5" y1="425.1" x2="388.6" y2="421.1" stroke="#000" stroke-width="1.2" stroke-dasharray="2 0.7" stroke-opacity="0.85"/><line x1="408.5" y1="430.0" x2="397.5" y2="425.1" stroke="#000" stroke-width="1.2" stroke-dasharray="2 0.7" stroke-opacity="0.85"/><line x1="416.9" y1="433.8" x2="408.5" y2="430.0" stroke="#000" stroke-width="1.2" stroke-dasharray="2 0.7" stroke-opacity="0.85"/><line x1="429.1" y1="439.3" x2="416.9" y2="433.8" stroke="#000" stroke-width="1.2" stroke-dasharray="2 0.7" stroke-opacity="0.85"/><line x1="439.6" y1="444.0" x2="429.1" y2="439.3" stroke="#000" stroke-width="1.2" stroke-dasharray="2 0.7" stroke-opacity="0.85"/><line x1="449.1" y1="448.2" x2="439.6" y2="444.0" stroke="#000" stroke-width="1.2" stroke-dasharray="2 0.7" stroke-opacity="0.85"/><line x1="458.6" y1="452.5" x2="449.1" y2="448.2" stroke="#000" stroke-width="1.2" stroke-dasharray="2 0.7" stroke-opacity="0.85"/><line x1="468.4" y1="456.9" x2="458.6" y2="452.5" stroke="#000" stroke-width="1.2" stroke-dasharray="2 0.7" stroke-opacity="0.85"/><line x1="477.8" y1="461.1" x2="468.4" y2="456.9" stroke="#000" stroke-width="1.2" stroke-dasharray="2 0.7" stroke-opacity="0.85"/><line x1="186.5" y1="330.4" x2="186.5" y2="246.4" stroke="#000" stroke-width="1.3" stroke-dasharray="1.05 0.95" stroke-opacity="0.8"/><line x1="195.5" y1="334.6" x2="195.5" y2="224.3" stroke="#000" stroke-width="1.3" stroke-dasharray="1.05 0.95" stroke-opacity="0.8"/><line x1="195.5" y1="224.3" x2="195.5" y2="334.6" stroke="#000" stroke-width="1.3" stroke-dasharray="1.05 0.95" stroke-opacity="0.8"/><line x1="204.5" y1="338.7" x2="204.5" y2="206.6" stroke="#000" stroke-width="1.3" stroke-dasharray="1.05 0.95" stroke-opacity="0.8"/><line x1="204.5" y1="206.6" x2="204.5" y2="338.7" stroke="#000" stroke-width="1.3" stroke-dasharray="1.05 0.95" stroke-opacity="0.8"/><line x1="214.5" y1="343.0" x2="214.5" y2="190.6" stroke="#000" stroke-width="1.3" stroke-dasharray="1.05 0.95" stroke-opacity="0.8"/><line x1="214.5" y1="190.6" x2="214.5" y2="343.0" stroke="#000" stroke-width="1.3" stroke-dasharray="1.05 0.95" stroke-opacity="0.8"/><line x1="223.5" y1="347.4" x2="223.5" y2="193.2" stroke="#000" stroke-width="1.3" stroke-dasharray="1.05 0.95" stroke-opacity="0.8"/><line x1="223.5" y1="193.2" x2="223.5" y2="347.4" stroke="#000" stroke-width="1.3" stroke-dasharray="1.05 0.95" stroke-opacity="0.8"/><line x1="234.5" y1="351.9" x2="234.5" y2="190.6" stroke="#000" stroke-width="1.3" stroke-dasharray="1.05 0.95" stroke-opacity="0.8"/><line x1="234.5" y1="190.6" x2="234.5" y2="351.9" stroke="#000" stroke-width="1.3" stroke-dasharray="1.05 0.95" stroke-opacity="0.8"/><line x1="244.5" y1="356.5" x2="244.5" y2="216.0" stroke="#000" stroke-width="1.3" stroke-dasharray="1.05 0.95" stroke-opacity="0.8"/><line x1="244.5" y1="216.0" x2="244.5" y2="356.5" stroke="#000" stroke-width="1.3" stroke-dasharray="1.05 0.95" stroke-opacity="0.8"/><line x1="254.5" y1="361.0" x2="254.5" y2="240.0" stroke="#000" stroke-width="1.3" stroke-dasharray="1.05 0.95" stroke-opacity="0.8"/><line x1="254.5" y1="240.0" x2="254.5" y2="361.0" stroke="#000" stroke-width="1.3" stroke-dasharray="1.05 0.95" stroke-opacity="0.8"/><line x1="264.5" y1="365.5" x2="264.5" y2="274.5" stroke="#000" stroke-width="1.3" stroke-dasharray="1.05 0.95" stroke-opacity="0.8"/><line x1="264.5" y1="274.5" x2="264.5" y2="365.5" stroke="#000" stroke-width="1.3" stroke-dasharray="1.05 0.95" stroke-opacity="0.8"/><line x1="274.5" y1="370.0" x2="274.5" y2="315.4" stroke="#000" stroke-width="1.3" stroke-dasharray="1.05 0.95" stroke-opacity="0.8"/><line x1="274.5" y1="315.4" x2="274.5" y2="370.0" stroke="#000" stroke-width="1.3" stroke-dasharray="1.05 0.95" stroke-opacity="0.8"/><line x1="284.5" y1="374.6" x2="284.5" y2="355.3" stroke="#000" stroke-width="1.3" stroke-dasharray="1.05 0.95" stroke-opacity="0.8"/><line x1="284.5" y1="355.3" x2="284.5" y2="374.6" stroke="#000" stroke-width="1.3" stroke-dasharray="1.05 0.95" stroke-opacity="0.8"/><line x1="295.5" y1="379.6" x2="295.5" y2="374.1" stroke="#000" stroke-width="1.3" stroke-dasharray="1.05 0.95" stroke-opacity="0.8"/><line x1="295.5" y1="374.1" x2="295.5" y2="379.6" stroke="#000" stroke-width="1.3" stroke-dasharray="1.05 0.95" stroke-opacity="0.8"/><line x1="306.5" y1="384.3" x2="306.5" y2="378.9" stroke="#000" stroke-width="1.3" stroke-dasharray="1.05 0.95" stroke-opacity="0.8"/><line x1="306.5" y1="378.9" x2="306.5" y2="384.3" stroke="#000" stroke-width="1.3" stroke-dasharray="1.05 0.95" stroke-opacity="0.8"/><line x1="316.5" y1="389.0" x2="316.5" y2="381.2" stroke="#000" stroke-width="1.3" stroke-dasharray="1.05 0.95" stroke-opacity="0.8"/><line x1="316.5" y1="381.2" x2="316.5" y2="389.0" stroke="#000" stroke-width="1.3" stroke-dasharray="1.05 0.95" stroke-opacity="0.8"/><line x1="326.5" y1="393.3" x2="326.5" y2="382.9" stroke="#000" stroke-width="1.3" stroke-dasharray="1.05 0.95" stroke-opacity="0.8"/><line x1="326.5" y1="382.9" x2="326.5" y2="393.3" stroke="#000" stroke-width="1.3" stroke-dasharray="1.05 0.95" stroke-opacity="0.8"/><line x1="336.5" y1="398.0" x2="336.5" y2="385.9" stroke="#000" stroke-width="1.3" stroke-dasharray="1.05 0.95" stroke-opacity="0.8"/><line x1="336.5" y1="385.9" x2="336.5" y2="398.0" stroke="#000" stroke-width="1.3" stroke-dasharray="1.05 0.95" stroke-opacity="0.8"/><line x1="347.5" y1="402.7" x2="347.5" y2="394.3" stroke="#000" stroke-width="1.3" stroke-dasharray="1.05 0.95" stroke-opacity="0.8"/><line x1="347.5" y1="394.3" x2="347.5" y2="402.7" stroke="#000" stroke-width="1.3" stroke-dasharray="1.05 0.95" stroke-opacity="0.8"/><line x1="357.5" y1="407.4" x2="357.5" y2="400.9" stroke="#000" stroke-width="1.3" stroke-dasharray="1.05 0.95" stroke-opacity="0.8"/><line x1="357.5" y1="400.9" x2="357.5" y2="407.4" stroke="#000" stroke-width="1.3" stroke-dasharray="1.05 0.95" stroke-opacity="0.8"/><line x1="367.5" y1="411.7" x2="367.5" y2="404.8" stroke="#000" stroke-width="1.3" stroke-dasharray="1.05 0.95" stroke-opacity="0.8"/><line x1="367.5" y1="404.8" x2="367.5" y2="411.7" stroke="#000" stroke-width="1.3" stroke-dasharray="1.05 0.95" stroke-opacity="0.8"/><line x1="378.5" y1="416.4" x2="378.5" y2="399.5" stroke="#000" stroke-width="1.3" stroke-dasharray="1.05 0.95" stroke-opacity="0.8"/><line x1="378.5" y1="399.5" x2="378.5" y2="416.4" stroke="#000" stroke-width="1.3" stroke-dasharray="1.05 0.95" stroke-opacity="0.8"/><line x1="388.5" y1="421.1" x2="388.5" y2="396.0" stroke="#000" stroke-width="1.3" stroke-dasharray="1.05 0.95" stroke-opacity="0.8"/><line x1="388.5" y1="396.0" x2="388.5" y2="421.1" stroke="#000" stroke-width="1.3" stroke-dasharray="1.05 0.95" stroke-opacity="0.8"/><line x1="397.5" y1="425.1" x2="397.5" y2="392.6" stroke="#000" stroke-width="1.3" stroke-dasharray="1.05 0.95" stroke-opacity="0.8"/><line x1="397.5" y1="392.6" x2="397.5" y2="425.1" stroke="#000" stroke-width="1.3" stroke-dasharray="1.05 0.95" stroke-opacity="0.8"/><line x1="408.5" y1="430.0" x2="408.5" y2="390.8" stroke="#000" stroke-width="1.3" stroke-dasharray="1.05 0.95" stroke-opacity="0.8"/><line x1="408.5" y1="390.8" x2="408.5" y2="430.0" stroke="#000" stroke-width="1.3" stroke-dasharray="1.05 0.95" stroke-opacity="0.8"/><line x1="416.5" y1="433.8" x2="416.5" y2="365.9" stroke="#000" stroke-width="1.3" stroke-dasharray="1.05 0.95" stroke-opacity="0.8"/><line x1="416.5" y1="365.9" x2="416.5" y2="433.8" stroke="#000" stroke-width="1.3" stroke-dasharray="1.05 0.95" stroke-opacity="0.8"/><line x1="429.5" y1="439.3" x2="429.5" y2="305.3" stroke="#000" stroke-width="1.3" stroke-dasharray="1.05 0.95" stroke-opacity="0.8"/><line x1="429.5" y1="305.3" x2="429.5" y2="439.3" stroke="#000" stroke-width="1.3" stroke-dasharray="1.05 0.95" stroke-opacity="0.8"/><line x1="439.5" y1="444.0" x2="439.5" y2="294.6" stroke="#000" stroke-width="1.3" stroke-dasharray="1.05 0.95" stroke-opacity="0.8"/><line x1="439.5" y1="294.6" x2="439.5" y2="444.0" stroke="#000" stroke-width="1.3" stroke-dasharray="1.05 0.95" stroke-opacity="0.8"/><line x1="449.5" y1="448.2" x2="449.5" y2="315.3" stroke="#000" stroke-width="1.3" stroke-dasharray="1.05 0.95" stroke-opacity="0.8"/><line x1="449.5" y1="315.3" x2="449.5" y2="448.2" stroke="#000" stroke-width="1.3" stroke-dasharray="1.05 0.95" stroke-opacity="0.8"/><line x1="458.5" y1="452.5" x2="458.5" y2="340.4" stroke="#000" stroke-width="1.3" stroke-dasharray="1.05 0.95" stroke-opacity="0.8"/><line x1="458.5" y1="340.4" x2="458.5" y2="452.5" stroke="#000" stroke-width="1.3" stroke-dasharray="1.05 0.95" stroke-opacity="0.8"/><line x1="468.5" y1="456.9" x2="468.5" y2="349.4" stroke="#000" stroke-width="1.3" stroke-dasharray="1.05 0.95" stroke-opacity="0.8"/><line x1="468.5" y1="349.4" x2="468.5" y2="456.9" stroke="#000" stroke-width="1.3" stroke-dasharray="1.05 0.95" stroke-opacity="0.8"/><line x1="477.5" y1="356.6" x2="477.5" y2="461.1" stroke="#000" stroke-width="1.3" stroke-dasharray="1.05 0.95" stroke-opacity="0.8"/></g>
<g><polygon points="131.5,306.3 141.6,270.9 152.0,239.3 162.9,262.0 172.8,318.0 183.0,374.5 193.2,383.9 203.4,389.0 213.7,395.0 223.9,400.0 234.1,406.0 244.5,411.6 254.9,416.2 265.2,420.9 275.6,425.5 286.0,430.2 296.4,434.8 306.7,439.4 317.1,444.1 327.5,448.7 337.9,453.4 348.2,458.0 358.6,462.7 369.0,465.1 379.5,462.9 390.2,419.0 399.8,380.2 409.3,370.7 420.0,393.3 431.0,422.0 431.0,497.0 131.5,362.9" fill="rgb(126, 47, 142)" fill-opacity="0.7" stroke="none"/><line x1="131.5" y1="306.3" x2="141.6" y2="270.9" stroke="#000" stroke-width="1.2" stroke-dasharray="2 0.7" stroke-opacity="0.85"/><line x1="141.6" y1="270.9" x2="152.0" y2="239.3" stroke="#000" stroke-width="1.2" stroke-dasharray="2 0.7" stroke-opacity="0.85"/><line x1="152.0" y1="239.3" x2="162.9" y2="262.0" stroke="#000" stroke-width="1.2" stroke-dasharray="2 0.7" stroke-opacity="0.85"/><line x1="162.9" y1="262.0" x2="172.8" y2="318.0" stroke="#000" stroke-width="1.2" stroke-dasharray="2 0.7" stroke-opacity="0.85"/><line x1="172.8" y1="318.0" x2="183.0" y2="374.5" stroke="#000" stroke-width="1.2" stroke-dasharray="2 0.7" stroke-opacity="0.85"/><line x1="183.0" y1="374.5" x2="193.2" y2="383.9" stroke="#000" stroke-width="1.2" stroke-dasharray="2 0.7" stroke-opacity="0.85"/><line x1="193.2" y1="383.9" x2="203.4" y2="389.0" stroke="#000" stroke-width="1.2" stroke-dasharray="2 0.7" stroke-opacity="0.85"/><line x1="203.4" y1="389.0" x2="213.7" y2="395.0" stroke="#000" stroke-width="1.2" stroke-dasharray="2 0.7" stroke-opacity="0.85"/><line x1="213.7" y1="395.0" x2="223.9" y2="400.0" stroke="#000" stroke-width="1.2" stroke-dasharray="2 0.7" stroke-opacity="0.85"/><line x1="223.9" y1="400.0" x2="234.1" y2="406.0" stroke="#000" stroke-width="1.2" stroke-dasharray="2 0.7" stroke-opacity="0.85"/><line x1="234.1" y1="406.0" x2="244.5" y2="411.6" stroke="#000" stroke-width="1.2" stroke-dasharray="2 0.7" stroke-opacity="0.85"/><line x1="244.5" y1="411.6" x2="254.9" y2="416.2" stroke="#000" stroke-width="1.2" stroke-dasharray="2 0.7" stroke-opacity="0.85"/><line x1="254.9" y1="416.2" x2="265.2" y2="420.9" stroke="#000" stroke-width="1.2" stroke-dasharray="2 0.7" stroke-opacity="0.85"/><line x1="265.2" y1="420.9" x2="275.6" y2="425.5" stroke="#000" stroke-width="1.2" stroke-dasharray="2 0.7" stroke-opacity="0.85"/><line x1="275.6" y1="425.5" x2="286.0" y2="430.2" stroke="#000" stroke-width="1.2" stroke-dasharray="2 0.7" stroke-opacity="0.85"/><line x1="286.0" y1="430.2" x2="296.4" y2="434.8" stroke="#000" stroke-width="1.2" stroke-dasharray="2 0.7" stroke-opacity="0.85"/><line x1="296.4" y1="434.8" x2="306.7" y2="439.4" stroke="#000" stroke-width="1.2" stroke-dasharray="2 0.7" stroke-opacity="0.85"/><line x1="306.7" y1="439.4" x2="317.1" y2="444.1" stroke="#000" stroke-width="1.2" stroke-dasharray="2 0.7" stroke-opacity="0.85"/><line x1="317.1" y1="444.1" x2="327.5" y2="448.7" stroke="#000" stroke-width="1.2" stroke-dasharray="2 0.7" stroke-opacity="0.85"/><line x1="327.5" y1="448.7" x2="337.9" y2="453.4" stroke="#000" stroke-width="1.2" stroke-dasharray="2 0.7" stroke-opacity="0.85"/><line x1="337.9" y1="453.4" x2="348.2" y2="458.0" stroke="#000" stroke-width="1.2" stroke-dasharray="2 0.7" stroke-opacity="0.85"/><line x1="348.2" y1="458.0" x2="358.6" y2="462.7" stroke="#000" stroke-width="1.2" stroke-dasharray="2 0.7" stroke-opacity="0.85"/><line x1="358.6" y1="462.7" x2="369.0" y2="465.1" stroke="#000" stroke-width="1.2" stroke-dasharray="2 0.7" stroke-opacity="0.85"/><line x1="369.0" y1="465.1" x2="379.5" y2="462.9" stroke="#000" stroke-width="1.2" stroke-dasharray="2 0.7" stroke-opacity="0.85"/><line x1="379.5" y1="462.9" x2="390.2" y2="419.0" stroke="#000" stroke-width="1.2" stroke-dasharray="2 0.7" stroke-opacity="0.85"/><line x1="390.2" y1="419.0" x2="399.8" y2="380.2" stroke="#000" stroke-width="1.2" stroke-dasharray="2 0.7" stroke-opacity="0.85"/><line x1="399.8" y1="380.2" x2="409.3" y2="370.7" stroke="#000" stroke-width="1.2" stroke-dasharray="2 0.7" stroke-opacity="0.85"/><line x1="409.3" y1="370.7" x2="420.0" y2="393.3" stroke="#000" stroke-width="1.2" stroke-dasharray="2 0.7" stroke-opacity="0.85"/><line x1="420.0" y1="393.3" x2="431.0" y2="422.0" stroke="#000" stroke-width="1.2" stroke-dasharray="2 0.7" stroke-opacity="0.85"/><line x1="141.6" y1="367.4" x2="131.5" y2="362.9" stroke="#000" stroke-width="1.2" stroke-dasharray="2 0.7" stroke-opacity="0.85"/><line x1="152.0" y1="372.1" x2="141.6" y2="367.4" stroke="#000" stroke-width="1.2" stroke-dasharray="2 0.7" stroke-opacity="0.85"/><line x1="162.9" y1="377.0" x2="152.0" y2="372.1" stroke="#000" stroke-width="1.2" stroke-dasharray="2 0.7" stroke-opacity="0.85"/><line x1="172.8" y1="381.4" x2="162.9" y2="377.0" stroke="#000" stroke-width="1.2" stroke-dasharray="2 0.7" stroke-opacity="0.85"/><line x1="183.0" y1="386.0" x2="172.8" y2="381.4" stroke="#000" stroke-width="1.2" stroke-dasharray="2 0.7" stroke-opacity="0.85"/><line x1="193.2" y1="390.5" x2="183.0" y2="386.0" stroke="#000" stroke-width="1.2" stroke-dasharray="2 0.7" stroke-opacity="0.85"/><line x1="203.4" y1="395.1" x2="193.2" y2="390.5" stroke="#000" stroke-width="1.2" stroke-dasharray="2 0.7" stroke-opacity="0.85"/><line x1="213.7" y1="399.7" x2="203.4" y2="395.1" stroke="#000" stroke-width="1.2" stroke-dasharray="2 0.7" stroke-opacity="0.85"/><line x1="223.9" y1="404.3" x2="213.7" y2="399.7" stroke="#000" stroke-width="1.2" stroke-dasharray="2 0.7" stroke-opacity="0.85"/><line x1="234.1" y1="408.9" x2="223.9" y2="404.3" stroke="#000" stroke-width="1.2" stroke-dasharray="2 0.7" stroke-opacity="0.85"/><line x1="244.5" y1="413.5" x2="234.1" y2="408.9" stroke="#000" stroke-width="1.2" stroke-dasharray="2 0.7" stroke-opacity="0.85"/><line x1="254.9" y1="418.1" x2="244.5" y2="413.5" stroke="#000" stroke-width="1.2" stroke-dasharray="2 0.7" stroke-opacity="0.85"/><line x1="265.2" y1="422.8" x2="254.9" y2="418.1" stroke="#000" stroke-width="1.2" stroke-dasharray="2 0.7" stroke-opacity="0.85"/><line x1="275.6" y1="427.4" x2="265.2" y2="422.8" stroke="#000" stroke-width="1.2" stroke-dasharray="2 0.7" stroke-opacity="0.85"/><line x1="286.0" y1="432.1" x2="275.6" y2="427.4" stroke="#000" stroke-width="1.2" stroke-dasharray="2 0.7" stroke-opacity="0.85"/><line x1="296.4" y1="436.7" x2="286.0" y2="432.1" stroke="#000" stroke-width="1.2" stroke-dasharray="2 0.7" stroke-opacity="0.85"/><line x1="306.7" y1="441.4" x2="296.4" y2="436.7" stroke="#000" stroke-width="1.2" stroke-dasharray="2 0.7" stroke-opacity="0.85"/><line x1="317.1" y1="446.0" x2="306.7" y2="441.4" stroke="#000" stroke-width="1.2" stroke-dasharray="2 0.7" stroke-opacity="0.85"/><line x1="327.5" y1="450.7" x2="317.1" y2="446.0" stroke="#000" stroke-width="1.2" stroke-dasharray="2 0.7" stroke-opacity="0.85"/><line x1="337.9" y1="455.3" x2="327.5" y2="450.7" stroke="#000" stroke-width="1.2" stroke-dasharray="2 0.7" stroke-opacity="0.85"/><line x1="348.2" y1="460.0" x2="337.9" y2="455.3" stroke="#000" stroke-width="1.2" stroke-dasharray="2 0.7" stroke-opacity="0.85"/><line x1="358.6" y1="464.6" x2="348.2" y2="460.0" stroke="#000" stroke-width="1.2" stroke-dasharray="2 0.7" stroke-opacity="0.85"/><line x1="369.0" y1="469.3" x2="358.6" y2="464.6" stroke="#000" stroke-width="1.2" stroke-dasharray="2 0.7" stroke-opacity="0.85"/><line x1="379.5" y1="474.0" x2="369.0" y2="469.3" stroke="#000" stroke-width="1.2" stroke-dasharray="2 0.7" stroke-opacity="0.85"/><line x1="390.2" y1="478.8" x2="379.5" y2="474.0" stroke="#000" stroke-width="1.2" stroke-dasharray="2 0.7" stroke-opacity="0.85"/><line x1="399.8" y1="483.1" x2="390.2" y2="478.8" stroke="#000" stroke-width="1.2" stroke-dasharray="2 0.7" stroke-opacity="0.85"/><line x1="409.3" y1="487.3" x2="399.8" y2="483.1" stroke="#000" stroke-width="1.2" stroke-dasharray="2 0.7" stroke-opacity="0.85"/><line x1="420.0" y1="492.1" x2="409.3" y2="487.3" stroke="#000" stroke-width="1.2" stroke-dasharray="2 0.7" stroke-opacity="0.85"/><line x1="431.0" y1="497.0" x2="420.0" y2="492.1" stroke="#000" stroke-width="1.2" stroke-dasharray="2 0.7" stroke-opacity="0.85"/><line x1="131.5" y1="362.9" x2="131.5" y2="306.3" stroke="#000" stroke-width="1.3" stroke-dasharray="1.05 0.95" stroke-opacity="0.8"/><line x1="141.5" y1="367.4" x2="141.5" y2="270.9" stroke="#000" stroke-width="1.3" stroke-dasharray="1.05 0.95" stroke-opacity="0.8"/><line x1="141.5" y1="270.9" x2="141.5" y2="367.4" stroke="#000" stroke-width="1.3" stroke-dasharray="1.05 0.95" stroke-opacity="0.8"/><line x1="152.5" y1="372.1" x2="152.5" y2="239.3" stroke="#000" stroke-width="1.3" stroke-dasharray="1.05 0.95" stroke-opacity="0.8"/><line x1="152.5" y1="239.3" x2="152.5" y2="372.1" stroke="#000" stroke-width="1.3" stroke-dasharray="1.05 0.95" stroke-opacity="0.8"/><line x1="162.5" y1="377.0" x2="162.5" y2="262.0" stroke="#000" stroke-width="1.3" stroke-dasharray="1.05 0.95" stroke-opacity="0.8"/><line x1="162.5" y1="262.0" x2="162.5" y2="377.0" stroke="#000" stroke-width="1.3" stroke-dasharray="1.05 0.95" stroke-opacity="0.8"/><line x1="172.5" y1="381.4" x2="172.5" y2="318.0" stroke="#000" stroke-width="1.3" stroke-dasharray="1.05 0.95" stroke-opacity="0.8"/><line x1="172.5" y1="318.0" x2="172.5" y2="381.4" stroke="#000" stroke-width="1.3" stroke-dasharray="1.05 0.95" stroke-opacity="0.8"/><line x1="183.5" y1="386.0" x2="183.5" y2="374.5" stroke="#000" stroke-width="1.3" stroke-dasharray="1.05 0.95" stroke-opacity="0.8"/><line x1="183.5" y1="374.5" x2="183.5" y2="386.0" stroke="#000" stroke-width="1.3" stroke-dasharray="1.05 0.95" stroke-opacity="0.8"/><line x1="193.5" y1="390.5" x2="193.5" y2="383.9" stroke="#000" stroke-width="1.3" stroke-dasharray="1.05 0.95" stroke-opacity="0.8"/><line x1="193.5" y1="383.9" x2="193.5" y2="390.5" stroke="#000" stroke-width="1.3" stroke-dasharray="1.05 0.95" stroke-opacity="0.8"/><line x1="203.5" y1="395.1" x2="203.5" y2="389.0" stroke="#000" stroke-width="1.3" stroke-dasharray="1.05 0.95" stroke-opacity="0.8"/><line x1="203.5" y1="389.0" x2="203.5" y2="395.1" stroke="#000" stroke-width="1.3" stroke-dasharray="1.05 0.95" stroke-opacity="0.8"/><line x1="213.5" y1="399.7" x2="213.5" y2="395.0" stroke="#000" stroke-width="1.3" stroke-dasharray="1.05 0.95" stroke-opacity="0.8"/><line x1="213.5" y1="395.0" x2="213.5" y2="399.7" stroke="#000" stroke-width="1.3" stroke-dasharray="1.05 0.95" stroke-opacity="0.8"/><line x1="223.5" y1="404.3" x2="223.5" y2="400.0" stroke="#000" stroke-width="1.3" stroke-dasharray="1.05 0.95" stroke-opacity="0.8"/><line x1="223.5" y1="400.0" x2="223.5" y2="404.3" stroke="#000" stroke-width="1.3" stroke-dasharray="1.05 0.95" stroke-opacity="0.8"/><line x1="234.5" y1="408.9" x2="234.5" y2="406.0" stroke="#000" stroke-width="1.3" stroke-dasharray="1.05 0.95" stroke-opacity="0.8"/><line x1="234.5" y1="406.0" x2="234.5" y2="408.9" stroke="#000" stroke-width="1.3" stroke-dasharray="1.05 0.95" stroke-opacity="0.8"/><line x1="244.5" y1="413.5" x2="244.5" y2="411.6" stroke="#000" stroke-width="1.3" stroke-dasharray="1.05 0.95" stroke-opacity="0.8"/><line x1="244.5" y1="411.6" x2="244.5" y2="413.5" stroke="#000" stroke-width="1.3" stroke-dasharray="1.05 0.95" stroke-opacity="0.8"/><line x1="254.5" y1="418.1" x2="254.5" y2="416.2" stroke="#000" stroke-width="1.3" stroke-dasharray="1.05 0.95" stroke-opacity="0.8"/><line x1="254.5" y1="416.2" x2="254.5" y2="418.1" stroke="#000" stroke-width="1.3" stroke-dasharray="1.05 0.95" stroke-opacity="0.8"/><line x1="265.5" y1="422.8" x2="265.5" y2="420.9" stroke="#000" stroke-width="1.3" stroke-dasharray="1.05 0.95" stroke-opacity="0.8"/><line x1="265.5" y1="420.9" x2="265.5" y2="422.8" stroke="#000" stroke-width="1.3" stroke-dasharray="1.05 0.95" stroke-opacity="0.8"/><line x1="275.5" y1="427.4" x2="275.5" y2="425.5" stroke="#000" stroke-width="1.3" stroke-dasharray="1.05 0.95" stroke-opacity="0.8"/><line x1="275.5" y1="425.5" x2="275.5" y2="427.4" stroke="#000" stroke-width="1.3" stroke-dasharray="1.05 0.95" stroke-opacity="0.8"/><line x1="285.5" y1="432.1" x2="285.5" y2="430.2" stroke="#000" stroke-width="1.3" stroke-dasharray="1.05 0.95" stroke-opacity="0.8"/><line x1="285.5" y1="430.2" x2="285.5" y2="432.1" stroke="#000" stroke-width="1.3" stroke-dasharray="1.05 0.95" stroke-opacity="0.8"/><line x1="296.5" y1="436.7" x2="296.5" y2="434.8" stroke="#000" stroke-width="1.3" stroke-dasharray="1.05 0.95" stroke-opacity="0.8"/><line x1="296.5" y1="434.8" x2="296.5" y2="436.7" stroke="#000" stroke-width="1.3" stroke-dasharray="1.05 0.95" stroke-opacity="0.8"/><line x1="306.5" y1="441.4" x2="306.5" y2="439.4" stroke="#000" stroke-width="1.3" stroke-dasharray="1.05 0.95" stroke-opacity="0.8"/><line x1="306.5" y1="439.4" x2="306.5" y2="441.4" stroke="#000" stroke-width="1.3" stroke-dasharray="1.05 0.95" stroke-opacity="0.8"/><line x1="317.5" y1="446.0" x2="317.5" y2="444.1" stroke="#000" stroke-width="1.3" stroke-dasharray="1.05 0.95" stroke-opacity="0.8"/><line x1="317.5" y1="444.1" x2="317.5" y2="446.0" stroke="#000" stroke-width="1.3" stroke-dasharray="1.05 0.95" stroke-opacity="0.8"/><line x1="327.5" y1="450.7" x2="327.5" y2="448.7" stroke="#000" stroke-width="1.3" stroke-dasharray="1.05 0.95" stroke-opacity="0.8"/><line x1="327.5" y1="448.7" x2="327.5" y2="450.7" stroke="#000" stroke-width="1.3" stroke-dasharray="1.05 0.95" stroke-opacity="0.8"/><line x1="337.5" y1="455.3" x2="337.5" y2="453.4" stroke="#000" stroke-width="1.3" stroke-dasharray="1.05 0.95" stroke-opacity="0.8"/><line x1="337.5" y1="453.4" x2="337.5" y2="455.3" stroke="#000" stroke-width="1.3" stroke-dasharray="1.05 0.95" stroke-opacity="0.8"/><line x1="348.5" y1="460.0" x2="348.5" y2="458.0" stroke="#000" stroke-width="1.3" stroke-dasharray="1.05 0.95" stroke-opacity="0.8"/><line x1="348.5" y1="458.0" x2="348.5" y2="460.0" stroke="#000" stroke-width="1.3" stroke-dasharray="1.05 0.95" stroke-opacity="0.8"/><line x1="358.5" y1="464.6" x2="358.5" y2="462.7" stroke="#000" stroke-width="1.3" stroke-dasharray="1.05 0.95" stroke-opacity="0.8"/><line x1="358.5" y1="462.7" x2="358.5" y2="464.6" stroke="#000" stroke-width="1.3" stroke-dasharray="1.05 0.95" stroke-opacity="0.8"/><line x1="369.5" y1="469.3" x2="369.5" y2="465.1" stroke="#000" stroke-width="1.3" stroke-dasharray="1.05 0.95" stroke-opacity="0.8"/><line x1="369.5" y1="465.1" x2="369.5" y2="469.3" stroke="#000" stroke-width="1.3" stroke-dasharray="1.05 0.95" stroke-opacity="0.8"/><line x1="379.5" y1="474.0" x2="379.5" y2="462.9" stroke="#000" stroke-width="1.3" stroke-dasharray="1.05 0.95" stroke-opacity="0.8"/><line x1="379.5" y1="462.9" x2="379.5" y2="474.0" stroke="#000" stroke-width="1.3" stroke-dasharray="1.05 0.95" stroke-opacity="0.8"/><line x1="390.5" y1="478.8" x2="390.5" y2="419.0" stroke="#000" stroke-width="1.3" stroke-dasharray="1.05 0.95" stroke-opacity="0.8"/><line x1="390.5" y1="419.0" x2="390.5" y2="478.8" stroke="#000" stroke-width="1.3" stroke-dasharray="1.05 0.95" stroke-opacity="0.8"/><line x1="399.5" y1="483.1" x2="399.5" y2="380.2" stroke="#000" stroke-width="1.3" stroke-dasharray="1.05 0.95" stroke-opacity="0.8"/><line x1="399.5" y1="380.2" x2="399.5" y2="483.1" stroke="#000" stroke-width="1.3" stroke-dasharray="1.05 0.95" stroke-opacity="0.8"/><line x1="409.5" y1="487.3" x2="409.5" y2="370.7" stroke="#000" stroke-width="1.3" stroke-dasharray="1.05 0.95" stroke-opacity="0.8"/><line x1="409.5" y1="370.7" x2="409.5" y2="487.3" stroke="#000" stroke-width="1.3" stroke-dasharray="1.05 0.95" stroke-opacity="0.8"/><line x1="420.5" y1="492.1" x2="420.5" y2="393.3" stroke="#000" stroke-width="1.3" stroke-dasharray="1.05 0.95" stroke-opacity="0.8"/><line x1="420.5" y1="393.3" x2="420.5" y2="492.1" stroke="#000" stroke-width="1.3" stroke-dasharray="1.05 0.95" stroke-opacity="0.8"/><line x1="431.5" y1="422.0" x2="431.5" y2="497.0" stroke="#000" stroke-width="1.3" stroke-dasharray="1.05 0.95" stroke-opacity="0.8"/></g>
<g><polygon points="81.1,328.2 91.3,343.8 101.5,362.6 111.7,394.9 121.9,410.2 132.1,417.9 142.5,422.2 152.9,426.9 163.3,431.6 173.7,436.2 184.1,440.9 194.5,445.5 204.9,450.2 215.3,454.8 225.7,459.5 236.1,464.2 246.4,468.8 256.8,473.5 267.2,478.1 277.6,482.8 288.0,487.4 298.4,492.1 308.8,496.7 319.2,501.4 329.6,506.1 340.0,509.7 350.2,500.2 360.4,476.3 370.6,473.6 380.8,475.7 380.8,531.5 81.1,397.2" fill="rgb(217, 83, 25)" fill-opacity="0.7" stroke="none"/><line x1="81.1" y1="328.2" x2="91.3" y2="343.8" stroke="#000" stroke-width="1.2" stroke-dasharray="2 0.7" stroke-opacity="0.85"/><line x1="91.3" y1="343.8" x2="101.5" y2="362.6" stroke="#000" stroke-width="1.2" stroke-dasharray="2 0.7" stroke-opacity="0.85"/><line x1="101.5" y1="362.6" x2="111.7" y2="394.9" stroke="#000" stroke-width="1.2" stroke-dasharray="2 0.7" stroke-opacity="0.85"/><line x1="111.7" y1="394.9" x2="121.9" y2="410.2" stroke="#000" stroke-width="1.2" stroke-dasharray="2 0.7" stroke-opacity="0.85"/><line x1="121.9" y1="410.2" x2="132.1" y2="417.9" stroke="#000" stroke-width="1.2" stroke-dasharray="2 0.7" stroke-opacity="0.85"/><line x1="132.1" y1="417.9" x2="142.5" y2="422.2" stroke="#000" stroke-width="1.2" stroke-dasharray="2 0.7" stroke-opacity="0.85"/><line x1="142.5" y1="422.2" x2="152.9" y2="426.9" stroke="#000" stroke-width="1.2" stroke-dasharray="2 0.7" stroke-opacity="0.85"/><line x1="152.9" y1="426.9" x2="163.3" y2="431.6" stroke="#000" stroke-width="1.2" stroke-dasharray="2 0.7" stroke-opacity="0.85"/><line x1="163.3" y1="431.6" x2="173.7" y2="436.2" stroke="#000" stroke-width="1.2" stroke-dasharray="2 0.7" stroke-opacity="0.85"/><line x1="173.7" y1="436.2" x2="184.1" y2="440.9" stroke="#000" stroke-width="1.2" stroke-dasharray="2 0.7" stroke-opacity="0.85"/><line x1="184.1" y1="440.9" x2="194.5" y2="445.5" stroke="#000" stroke-width="1.2" stroke-dasharray="2 0.7" stroke-opacity="0.85"/><line x1="194.5" y1="445.5" x2="204.9" y2="450.2" stroke="#000" stroke-width="1.2" stroke-dasharray="2 0.7" stroke-opacity="0.85"/><line x1="204.9" y1="450.2" x2="215.3" y2="454.8" stroke="#000" stroke-width="1.2" stroke-dasharray="2 0.7" stroke-opacity="0.85"/><line x1="215.3" y1="454.8" x2="225.7" y2="459.5" stroke="#000" stroke-width="1.2" stroke-dasharray="2 0.7" stroke-opacity="0.85"/><line x1="225.7" y1="459.5" x2="236.1" y2="464.2" stroke="#000" stroke-width="1.2" stroke-dasharray="2 0.7" stroke-opacity="0.85"/><line x1="236.1" y1="464.2" x2="246.4" y2="468.8" stroke="#000" stroke-width="1.2" stroke-dasharray="2 0.7" stroke-opacity="0.85"/><line x1="246.4" y1="468.8" x2="256.8" y2="473.5" stroke="#000" stroke-width="1.2" stroke-dasharray="2 0.7" stroke-opacity="0.85"/><line x1="256.8" y1="473.5" x2="267.2" y2="478.1" stroke="#000" stroke-width="1.2" stroke-dasharray="2 0.7" stroke-opacity="0.85"/><line x1="267.2" y1="478.1" x2="277.6" y2="482.8" stroke="#000" stroke-width="1.2" stroke-dasharray="2 0.7" stroke-opacity="0.85"/><line x1="277.6" y1="482.8" x2="288.0" y2="487.4" stroke="#000" stroke-width="1.2" stroke-dasharray="2 0.7" stroke-opacity="0.85"/><line x1="288.0" y1="487.4" x2="298.4" y2="492.1" stroke="#000" stroke-width="1.2" stroke-dasharray="2 0.7" stroke-opacity="0.85"/><line x1="298.4" y1="492.1" x2="308.8" y2="496.7" stroke="#000" stroke-width="1.2" stroke-dasharray="2 0.7" stroke-opacity="0.85"/><line x1="308.8" y1="496.7" x2="319.2" y2="501.4" stroke="#000" stroke-width="1.2" stroke-dasharray="2 0.7" stroke-opacity="0.85"/><line x1="319.2" y1="501.4" x2="329.6" y2="506.1" stroke="#000" stroke-width="1.2" stroke-dasharray="2 0.7" stroke-opacity="0.85"/><line x1="329.6" y1="506.1" x2="340.0" y2="509.7" stroke="#000" stroke-width="1.2" stroke-dasharray="2 0.7" stroke-opacity="0.85"/><line x1="340.0" y1="509.7" x2="350.2" y2="500.2" stroke="#000" stroke-width="1.2" stroke-dasharray="2 0.7" stroke-opacity="0.85"/><line x1="350.2" y1="500.2" x2="360.4" y2="476.3" stroke="#000" stroke-width="1.2" stroke-dasharray="2 0.7" stroke-opacity="0.85"/><line x1="360.4" y1="476.3" x2="370.6" y2="473.6" stroke="#000" stroke-width="1.2" stroke-dasharray="2 0.7" stroke-opacity="0.85"/><line x1="370.6" y1="473.6" x2="380.8" y2="475.7" stroke="#000" stroke-width="1.2" stroke-dasharray="2 0.7" stroke-opacity="0.85"/><line x1="91.3" y1="401.8" x2="81.1" y2="397.2" stroke="#000" stroke-width="1.2" stroke-dasharray="2 0.7" stroke-opacity="0.85"/><line x1="101.5" y1="406.4" x2="91.3" y2="401.8" stroke="#000" stroke-width="1.2" stroke-dasharray="2 0.7" stroke-opacity="0.85"/><line x1="111.7" y1="410.9" x2="101.5" y2="406.4" stroke="#000" stroke-width="1.2" stroke-dasharray="2 0.7" stroke-opacity="0.85"/><line x1="121.9" y1="415.5" x2="111.7" y2="410.9" stroke="#000" stroke-width="1.2" stroke-dasharray="2 0.7" stroke-opacity="0.85"/><line x1="132.1" y1="420.1" x2="121.9" y2="415.5" stroke="#000" stroke-width="1.2" stroke-dasharray="2 0.7" stroke-opacity="0.85"/><line x1="142.5" y1="424.7" x2="132.1" y2="420.1" stroke="#000" stroke-width="1.2" stroke-dasharray="2 0.7" stroke-opacity="0.85"/><line x1="152.9" y1="429.4" x2="142.5" y2="424.7" stroke="#000" stroke-width="1.2" stroke-dasharray="2 0.7" stroke-opacity="0.85"/><line x1="163.3" y1="434.1" x2="152.9" y2="429.4" stroke="#000" stroke-width="1.2" stroke-dasharray="2 0.7" stroke-opacity="0.85"/><line x1="173.7" y1="438.7" x2="163.3" y2="434.1" stroke="#000" stroke-width="1.2" stroke-dasharray="2 0.7" stroke-opacity="0.85"/><line x1="184.1" y1="443.4" x2="173.7" y2="438.7" stroke="#000" stroke-width="1.2" stroke-dasharray="2 0.7" stroke-opacity="0.85"/><line x1="194.5" y1="448.0" x2="184.1" y2="443.4" stroke="#000" stroke-width="1.2" stroke-dasharray="2 0.7" stroke-opacity="0.85"/><line x1="204.9" y1="452.7" x2="194.5" y2="448.0" stroke="#000" stroke-width="1.2" stroke-dasharray="2 0.7" stroke-opacity="0.85"/><line x1="215.3" y1="457.3" x2="204.9" y2="452.7" stroke="#000" stroke-width="1.2" stroke-dasharray="2 0.7" stroke-opacity="0.85"/><line x1="225.7" y1="462.0" x2="215.3" y2="457.3" stroke="#000" stroke-width="1.2" stroke-dasharray="2 0.7" stroke-opacity="0.85"/><line x1="236.1" y1="466.6" x2="225.7" y2="462.0" stroke="#000" stroke-width="1.2" stroke-dasharray="2 0.7" stroke-opacity="0.85"/><line x1="246.4" y1="471.3" x2="236.1" y2="466.6" stroke="#000" stroke-width="1.2" stroke-dasharray="2 0.7" stroke-opacity="0.85"/><line x1="256.8" y1="476.0" x2="246.4" y2="471.3" stroke="#000" stroke-width="1.2" stroke-dasharray="2 0.7" stroke-opacity="0.85"/><line x1="267.2" y1="480.6" x2="256.8" y2="476.0" stroke="#000" stroke-width="1.2" stroke-dasharray="2 0.7" stroke-opacity="0.85"/><line x1="277.6" y1="485.3" x2="267.2" y2="480.6" stroke="#000" stroke-width="1.2" stroke-dasharray="2 0.7" stroke-opacity="0.85"/><line x1="288.0" y1="489.9" x2="277.6" y2="485.3" stroke="#000" stroke-width="1.2" stroke-dasharray="2 0.7" stroke-opacity="0.85"/><line x1="298.4" y1="494.6" x2="288.0" y2="489.9" stroke="#000" stroke-width="1.2" stroke-dasharray="2 0.7" stroke-opacity="0.85"/><line x1="308.8" y1="499.2" x2="298.4" y2="494.6" stroke="#000" stroke-width="1.2" stroke-dasharray="2 0.7" stroke-opacity="0.85"/><line x1="319.2" y1="503.9" x2="308.8" y2="499.2" stroke="#000" stroke-width="1.2" stroke-dasharray="2 0.7" stroke-opacity="0.85"/><line x1="329.6" y1="508.5" x2="319.2" y2="503.9" stroke="#000" stroke-width="1.2" stroke-dasharray="2 0.7" stroke-opacity="0.85"/><line x1="340.0" y1="513.2" x2="329.6" y2="508.5" stroke="#000" stroke-width="1.2" stroke-dasharray="2 0.7" stroke-opacity="0.85"/><line x1="350.2" y1="517.8" x2="340.0" y2="513.2" stroke="#000" stroke-width="1.2" stroke-dasharray="2 0.7" stroke-opacity="0.85"/><line x1="360.4" y1="522.3" x2="350.2" y2="517.8" stroke="#000" stroke-width="1.2" stroke-dasharray="2 0.7" stroke-opacity="0.85"/><line x1="370.6" y1="526.9" x2="360.4" y2="522.3" stroke="#000" stroke-width="1.2" stroke-dasharray="2 0.7" stroke-opacity="0.85"/><line x1="380.8" y1="531.5" x2="370.6" y2="526.9" stroke="#000" stroke-width="1.2" stroke-dasharray="2 0.7" stroke-opacity="0.85"/><line x1="81.5" y1="397.2" x2="81.5" y2="328.2" stroke="#000" stroke-width="1.3" stroke-dasharray="1.05 0.95" stroke-opacity="0.8"/><line x1="91.5" y1="401.8" x2="91.5" y2="343.8" stroke="#000" stroke-width="1.3" stroke-dasharray="1.05 0.95" stroke-opacity="0.8"/><line x1="91.5" y1="343.8" x2="91.5" y2="401.8" stroke="#000" stroke-width="1.3" stroke-dasharray="1.05 0.95" stroke-opacity="0.8"/><line x1="101.5" y1="406.4" x2="101.5" y2="362.6" stroke="#000" stroke-width="1.3" stroke-dasharray="1.05 0.95" stroke-opacity="0.8"/><line x1="101.5" y1="362.6" x2="101.5" y2="406.4" stroke="#000" stroke-width="1.3" stroke-dasharray="1.05 0.95" stroke-opacity="0.8"/><line x1="111.5" y1="410.9" x2="111.5" y2="394.9" stroke="#000" stroke-width="1.3" stroke-dasharray="1.05 0.95" stroke-opacity="0.8"/><line x1="111.5" y1="394.9" x2="111.5" y2="410.9" stroke="#000" stroke-width="1.3" stroke-dasharray="1.05 0.95" stroke-opacity="0.8"/><line x1="121.5" y1="415.5" x2="121.5" y2="410.2" stroke="#000" stroke-width="1.3" stroke-dasharray="1.05 0.95" stroke-opacity="0.8"/><line x1="121.5" y1="410.2" x2="121.5" y2="415.5" stroke="#000" stroke-width="1.3" stroke-dasharray="1.05 0.95" stroke-opacity="0.8"/><line x1="132.5" y1="420.1" x2="132.5" y2="417.9" stroke="#000" stroke-width="1.3" stroke-dasharray="1.05 0.95" stroke-opacity="0.8"/><line x1="132.5" y1="417.9" x2="132.5" y2="420.1" stroke="#000" stroke-width="1.3" stroke-dasharray="1.05 0.95" stroke-opacity="0.8"/><line x1="142.5" y1="424.7" x2="142.5" y2="422.2" stroke="#000" stroke-width="1.3" stroke-dasharray="1.05 0.95" stroke-opacity="0.8"/><line x1="142.5" y1="422.2" x2="142.5" y2="424.7" stroke="#000" stroke-width="1.3" stroke-dasharray="1.05 0.95" stroke-opacity="0.8"/><line x1="152.5" y1="429.4" x2="152.5" y2="426.9" stroke="#000" stroke-width="1.3" stroke-dasharray="1.05 0.95" stroke-opacity="0.8"/><line x1="152.5" y1="426.9" x2="152.5" y2="429.4" stroke="#000" stroke-width="1.3" stroke-dasharray="1.05 0.95" stroke-opacity="0.8"/><line x1="163.5" y1="434.1" x2="163.5" y2="431.6" stroke="#000" stroke-width="1.3" stroke-dasharray="1.05 0.95" stroke-opacity="0.8"/><line x1="163.5" y1="431.6" x2="163.5" y2="434.1" stroke="#000" stroke-width="1.3" stroke-dasharray="1.05 0.95" stroke-opacity="0.8"/><line x1="173.5" y1="438.7" x2="173.5" y2="436.2" stroke="#000" stroke-width="1.3" stroke-dasharray="1.05 0.95" stroke-opacity="0.8"/><line x1="173.5" y1="436.2" x2="173.5" y2="438.7" stroke="#000" stroke-width="1.3" stroke-dasharray="1.05 0.95" stroke-opacity="0.8"/><line x1="184.5" y1="443.4" x2="184.5" y2="440.9" stroke="#000" stroke-width="1.3" stroke-dasharray="1.05 0.95" stroke-opacity="0.8"/><line x1="184.5" y1="440.9" x2="184.5" y2="443.4" stroke="#000" stroke-width="1.3" stroke-dasharray="1.05 0.95" stroke-opacity="0.8"/><line x1="194.5" y1="448.0" x2="194.5" y2="445.5" stroke="#000" stroke-width="1.3" stroke-dasharray="1.05 0.95" stroke-opacity="0.8"/><line x1="194.5" y1="445.5" x2="194.5" y2="448.0" stroke="#000" stroke-width="1.3" stroke-dasharray="1.05 0.95" stroke-opacity="0.8"/><line x1="204.5" y1="452.7" x2="204.5" y2="450.2" stroke="#000" stroke-width="1.3" stroke-dasharray="1.05 0.95" stroke-opacity="0.8"/><line x1="204.5" y1="450.2" x2="204.5" y2="452.7" stroke="#000" stroke-width="1.3" stroke-dasharray="1.05 0.95" stroke-opacity="0.8"/><line x1="215.5" y1="457.3" x2="215.5" y2="454.8" stroke="#000" stroke-width="1.3" stroke-dasharray="1.05 0.95" stroke-opacity="0.8"/><line x1="215.5" y1="454.8" x2="215.5" y2="457.3" stroke="#000" stroke-width="1.3" stroke-dasharray="1.05 0.95" stroke-opacity="0.8"/><line x1="225.5" y1="462.0" x2="225.5" y2="459.5" stroke="#000" stroke-width="1.3" stroke-dasharray="1.05 0.95" stroke-opacity="0.8"/><line x1="225.5" y1="459.5" x2="225.5" y2="462.0" stroke="#000" stroke-width="1.3" stroke-dasharray="1.05 0.95" stroke-opacity="0.8"/><line x1="236.5" y1="466.6" x2="236.5" y2="464.2" stroke="#000" stroke-width="1.3" stroke-dasharray="1.05 0.95" stroke-opacity="0.8"/><line x1="236.5" y1="464.2" x2="236.5" y2="466.6" stroke="#000" stroke-width="1.3" stroke-dasharray="1.05 0.95" stroke-opacity="0.8"/><line x1="246.5" y1="471.3" x2="246.5" y2="468.8" stroke="#000" stroke-width="1.3" stroke-dasharray="1.05 0.95" stroke-opacity="0.8"/><line x1="246.5" y1="468.8" x2="246.5" y2="471.3" stroke="#000" stroke-width="1.3" stroke-dasharray="1.05 0.95" stroke-opacity="0.8"/><line x1="256.5" y1="476.0" x2="256.5" y2="473.5" stroke="#000" stroke-width="1.3" stroke-dasharray="1.05 0.95" stroke-opacity="0.8"/><line x1="256.5" y1="473.5" x2="256.5" y2="476.0" stroke="#000" stroke-width="1.3" stroke-dasharray="1.05 0.95" stroke-opacity="0.8"/><line x1="267.5" y1="480.6" x2="267.5" y2="478.1" stroke="#000" stroke-width="1.3" stroke-dasharray="1.05 0.95" stroke-opacity="0.8"/><line x1="267.5" y1="478.1" x2="267.5" y2="480.6" stroke="#000" stroke-width="1.3" stroke-dasharray="1.05 0.95" stroke-opacity="0.8"/><line x1="277.5" y1="485.3" x2="277.5" y2="482.8" stroke="#000" stroke-width="1.3" stroke-dasharray="1.05 0.95" stroke-opacity="0.8"/><line x1="277.5" y1="482.8" x2="277.5" y2="485.3" stroke="#000" stroke-width="1.3" stroke-dasharray="1.05 0.95" stroke-opacity="0.8"/><line x1="288.5" y1="489.9" x2="288.5" y2="487.4" stroke="#000" stroke-width="1.3" stroke-dasharray="1.05 0.95" stroke-opacity="0.8"/><line x1="288.5" y1="487.4" x2="288.5" y2="489.9" stroke="#000" stroke-width="1.3" stroke-dasharray="1.05 0.95" stroke-opacity="0.8"/><line x1="298.5" y1="494.6" x2="298.5" y2="492.1" stroke="#000" stroke-width="1.3" stroke-dasharray="1.05 0.95" stroke-opacity="0.8"/><line x1="298.5" y1="492.1" x2="298.5" y2="494.6" stroke="#000" stroke-width="1.3" stroke-dasharray="1.05 0.95" stroke-opacity="0.8"/><line x1="308.5" y1="499.2" x2="308.5" y2="496.7" stroke="#000" stroke-width="1.3" stroke-dasharray="1.05 0.95" stroke-opacity="0.8"/><line x1="308.5" y1="496.7" x2="308.5" y2="499.2" stroke="#000" stroke-width="1.3" stroke-dasharray="1.05 0.95" stroke-opacity="0.8"/><line x1="319.5" y1="503.9" x2="319.5" y2="501.4" stroke="#000" stroke-width="1.3" stroke-dasharray="1.05 0.95" stroke-opacity="0.8"/><line x1="319.5" y1="501.4" x2="319.5" y2="503.9" stroke="#000" stroke-width="1.3" stroke-dasharray="1.05 0.95" stroke-opacity="0.8"/><line x1="329.5" y1="508.5" x2="329.5" y2="506.1" stroke="#000" stroke-width="1.3" stroke-dasharray="1.05 0.95" stroke-opacity="0.8"/><line x1="329.5" y1="506.1" x2="329.5" y2="508.5" stroke="#000" stroke-width="1.3" stroke-dasharray="1.05 0.95" stroke-opacity="0.8"/><line x1="340.5" y1="513.2" x2="340.5" y2="509.7" stroke="#000" stroke-width="1.3" stroke-dasharray="1.05 0.95" stroke-opacity="0.8"/><line x1="340.5" y1="509.7" x2="340.5" y2="513.2" stroke="#000" stroke-width="1.3" stroke-dasharray="1.05 0.95" stroke-opacity="0.8"/><line x1="350.5" y1="517.8" x2="350.5" y2="500.2" stroke="#000" stroke-width="1.3" stroke-dasharray="1.05 0.95" stroke-opacity="0.8"/><line x1="350.5" y1="500.2" x2="350.5" y2="517.8" stroke="#000" stroke-width="1.3" stroke-dasharray="1.05 0.95" stroke-opacity="0.8"/><line x1="360.5" y1="522.3" x2="360.5" y2="476.3" stroke="#000" stroke-width="1.3" stroke-dasharray="1.05 0.95" stroke-opacity="0.8"/><line x1="360.5" y1="476.3" x2="360.5" y2="522.3" stroke="#000" stroke-width="1.3" stroke-dasharray="1.05 0.95" stroke-opacity="0.8"/><line x1="370.5" y1="526.9" x2="370.5" y2="473.6" stroke="#000" stroke-width="1.3" stroke-dasharray="1.05 0.95" stroke-opacity="0.8"/><line x1="370.5" y1="473.6" x2="370.5" y2="526.9" stroke="#000" stroke-width="1.3" stroke-dasharray="1.05 0.95" stroke-opacity="0.8"/><line x1="380.5" y1="475.7" x2="380.5" y2="531.5" stroke="#000" stroke-width="1.3" stroke-dasharray="1.05 0.95" stroke-opacity="0.8"/></g>
<g stroke="#262626" stroke-width="1.9" stroke-linecap="square"><line x1="71.0" y1="398.1" x2="381.9" y2="537.4"/><line x1="381.9" y1="537.4" x2="633.5" y2="365.5"/></g>
<g stroke="#262626" stroke-width="1.8"><line x1="71.0" y1="398.1" x2="62.7" y2="394.4"/><line x1="71.0" y1="342.7" x2="62.7" y2="339.0"/><line x1="71.0" y1="287.4" x2="62.7" y2="283.7"/><line x1="71.0" y1="232.0" x2="62.7" y2="228.3"/><line x1="71.0" y1="176.6" x2="62.7" y2="172.9"/><line x1="71.0" y1="398.1" x2="63.5" y2="403.2"/><line x1="91.7" y1="407.4" x2="88.0" y2="409.9"/><line x1="112.4" y1="416.7" x2="108.7" y2="419.2"/><line x1="133.2" y1="426.0" x2="129.4" y2="428.5"/><line x1="153.9" y1="435.2" x2="150.2" y2="437.8"/><line x1="174.6" y1="444.5" x2="167.2" y2="449.6"/><line x1="195.4" y1="453.8" x2="191.6" y2="456.4"/><line x1="216.1" y1="463.1" x2="212.4" y2="465.6"/><line x1="236.8" y1="472.4" x2="233.1" y2="474.9"/><line x1="257.6" y1="481.7" x2="253.8" y2="484.2"/><line x1="278.3" y1="491.0" x2="270.9" y2="496.0"/><line x1="299.0" y1="500.3" x2="295.3" y2="502.8"/><line x1="319.8" y1="509.5" x2="316.0" y2="512.1"/><line x1="340.5" y1="518.8" x2="336.8" y2="521.4"/><line x1="361.2" y1="528.1" x2="357.5" y2="530.7"/><line x1="381.9" y1="537.4" x2="374.5" y2="542.5"/><line x1="386.7" y1="534.1" x2="394.9" y2="537.8"/><line x1="437.1" y1="499.8" x2="445.3" y2="503.4"/><line x1="487.4" y1="465.4" x2="495.6" y2="469.1"/><line x1="537.7" y1="431.0" x2="545.9" y2="434.7"/><line x1="588.0" y1="396.6" x2="596.2" y2="400.3"/><line x1="381.9" y1="537.4" x2="386.1" y2="539.2"/><line x1="401.6" y1="524.0" x2="405.7" y2="525.8"/><line x1="411.6" y1="517.1" x2="415.7" y2="519.0"/><line x1="421.7" y1="510.2" x2="425.8" y2="512.1"/><line x1="431.8" y1="503.4" x2="435.9" y2="505.2"/><line x1="451.9" y1="489.6" x2="456.0" y2="491.5"/><line x1="462.0" y1="482.7" x2="466.1" y2="484.6"/><line x1="472.0" y1="475.9" x2="476.1" y2="477.7"/><line x1="482.1" y1="469.0" x2="486.2" y2="470.8"/><line x1="502.2" y1="455.2" x2="506.3" y2="457.1"/><line x1="512.3" y1="448.4" x2="516.4" y2="450.2"/><line x1="522.3" y1="441.5" x2="526.4" y2="443.3"/><line x1="532.4" y1="434.6" x2="536.5" y2="436.4"/><line x1="552.5" y1="420.9" x2="556.6" y2="422.7"/><line x1="562.6" y1="414.0" x2="566.7" y2="415.8"/><line x1="572.7" y1="407.1" x2="576.8" y2="408.9"/><line x1="582.7" y1="400.2" x2="586.8" y2="402.1"/><line x1="602.9" y1="386.5" x2="607.0" y2="388.3"/><line x1="612.9" y1="379.6" x2="617.0" y2="381.4"/><line x1="623.0" y1="372.7" x2="627.1" y2="374.6"/><line x1="633.0" y1="365.8" x2="637.2" y2="367.7"/></g>
<g fill="#262626" stroke="#fff" stroke-width="0.12" font-family="Liberation Serif, Times New Roman, serif"><text x="57.0" y="401.3" text-anchor="end" font-size="23" transform="translate(0 401.3) scale(1 1.127) translate(0 -401.3)">0</text><text x="57.0" y="345.9" text-anchor="end" font-size="23" transform="translate(0 345.9) scale(1 1.127) translate(0 -345.9)">10</text><text x="57.0" y="290.6" text-anchor="end" font-size="23" transform="translate(0 290.6) scale(1 1.127) translate(0 -290.6)">20</text><text x="57.0" y="235.2" text-anchor="end" font-size="23" transform="translate(0 235.2) scale(1 1.127) translate(0 -235.2)">30</text><text x="57.0" y="179.8" text-anchor="end" font-size="23" transform="translate(0 179.8) scale(1 1.127) translate(0 -179.8)">40</text><text x="40.6" y="429.4" text-anchor="middle" font-size="23" transform="translate(0 429.4) scale(1 1.127) translate(0 -429.4)">300</text><text x="144.9" y="475.6" text-anchor="middle" font-size="23" transform="translate(0 475.6) scale(1 1.127) translate(0 -475.6)">400</text><text x="247.8" y="522.7" text-anchor="middle" font-size="23" transform="translate(0 522.7) scale(1 1.127) translate(0 -522.7)">500</text><text x="351.0" y="568.7" text-anchor="middle" font-size="23" transform="translate(0 568.7) scale(1 1.127) translate(0 -568.7)">600</text><text x="415.6" y="562.8" text-anchor="middle" font-size="23" transform="translate(0 562.8) scale(1 1.127) translate(0 -562.8)">8.8</text><text x="472.5" y="529.3" text-anchor="middle" font-size="23" transform="translate(0 529.3) scale(1 1.127) translate(0 -529.3)">18.8</text><text x="522.4" y="493.5" text-anchor="middle" font-size="23" transform="translate(0 493.5) scale(1 1.127) translate(0 -493.5)">62.5</text><text x="572.6" y="459.9" text-anchor="middle" font-size="23" transform="translate(0 459.9) scale(1 1.127) translate(0 -459.9)">76.4</text><text x="629.8" y="424.4" text-anchor="middle" font-size="23" transform="translate(0 424.4) scale(1 1.127) translate(0 -424.4)">104.6</text><text x="22.0" y="380.5" text-anchor="start" font-size="25.3" transform="rotate(-90.00 22.0 380.5)">Contact force(kN)</text><text x="80.5" y="485.4" text-anchor="start" font-size="25.5" transform="rotate(23.40 80.5 485.4)">z-coordinate(mm)</text><text x="471.6" y="584.2" text-anchor="start" font-size="25.5" transform="rotate(-34.44 471.6 584.2)">Shear displacement(mm)</text></g></svg>
</body></html>
